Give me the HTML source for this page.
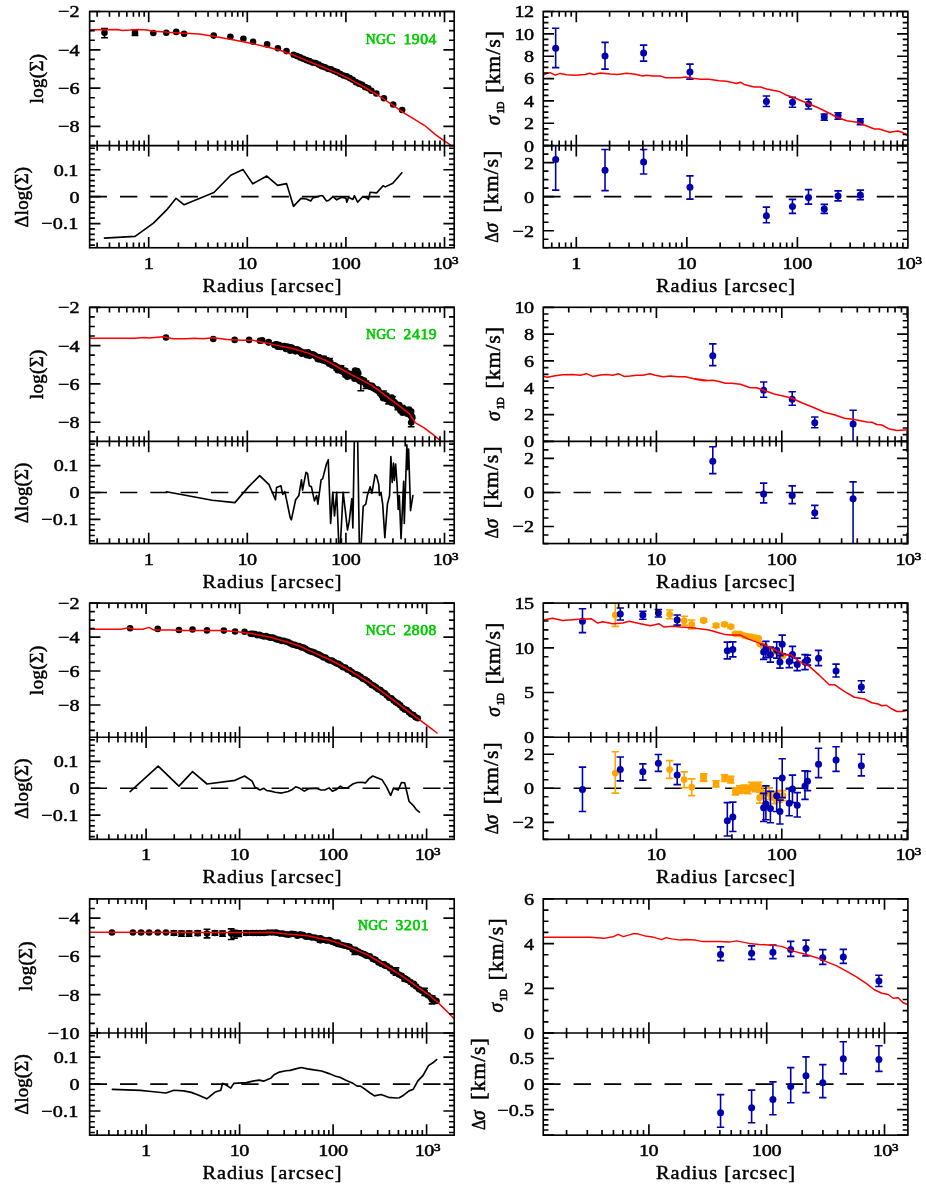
<!DOCTYPE html>
<html><head><meta charset="utf-8"><title>chart</title><style>html,body{margin:0;padding:0;background:#fff}svg{display:block;will-change:transform}text{font-family:"Liberation Serif",serif}</style></head>
<body>
<svg width="926" height="1201" viewBox="0 0 926 1201" font-family="Liberation Serif, serif">
<rect width="926" height="1201" fill="#fff"/>
<clipPath id="cLU0"><rect x="89.65" y="11.5" width="364.55" height="134.1"/></clipPath>
<clipPath id="cLL0"><rect x="89.65" y="145.6" width="364.55" height="102.15"/></clipPath>
<clipPath id="cRU0"><rect x="543.25" y="11.5" width="364.65" height="134.1"/></clipPath>
<clipPath id="cRL0"><rect x="543.25" y="145.6" width="364.65" height="102.15"/></clipPath>
<clipPath id="cLU1"><rect x="89.65" y="307.3" width="364.55" height="134.1"/></clipPath>
<clipPath id="cLL1"><rect x="89.65" y="441.4" width="364.55" height="102.15"/></clipPath>
<clipPath id="cRU1"><rect x="543.25" y="307.3" width="364.65" height="134.1"/></clipPath>
<clipPath id="cRL1"><rect x="543.25" y="441.4" width="364.65" height="102.15"/></clipPath>
<clipPath id="cLU2"><rect x="89.65" y="603.1" width="364.55" height="134.1"/></clipPath>
<clipPath id="cLL2"><rect x="89.65" y="737.2" width="364.55" height="102.15"/></clipPath>
<clipPath id="cRU2"><rect x="543.25" y="603.1" width="364.65" height="134.1"/></clipPath>
<clipPath id="cRL2"><rect x="543.25" y="737.2" width="364.65" height="102.15"/></clipPath>
<clipPath id="cLU3"><rect x="89.65" y="898.9" width="364.55" height="134.1"/></clipPath>
<clipPath id="cLL3"><rect x="89.65" y="1033" width="364.55" height="102.15"/></clipPath>
<clipPath id="cRU3"><rect x="543.25" y="898.9" width="364.65" height="134.1"/></clipPath>
<clipPath id="cRL3"><rect x="543.25" y="1033" width="364.65" height="102.15"/></clipPath>
<g clip-path="url(#cLU0)">
<path d="M104.5 28.6V37.8M101.1 28.6H107.9M101.1 37.8H107.9" stroke="#000" stroke-width="1.6" fill="none"/>
<circle cx="104.5" cy="32.7" r="3.3" fill="#000"/>
<path d="M135 30V35.4M131.6 30H138.4M131.6 35.4H138.4" stroke="#000" stroke-width="1.6" fill="none"/>
<circle cx="135" cy="32.7" r="3.3" fill="#000"/>
<circle cx="153.3" cy="33" r="3.3" fill="#000"/>
<circle cx="166.3" cy="32.7" r="3.3" fill="#000"/>
<circle cx="176.2" cy="31.9" r="3.3" fill="#000"/>
<circle cx="184.1" cy="33.8" r="3.3" fill="#000"/>
<circle cx="213.7" cy="35.6" r="3.3" fill="#000"/>
<circle cx="230.4" cy="36.8" r="3.3" fill="#000"/>
<circle cx="243.4" cy="38.8" r="3.3" fill="#000"/>
<circle cx="253.1" cy="41.8" r="3.3" fill="#000"/>
<circle cx="267.1" cy="44.4" r="3.3" fill="#000"/>
<circle cx="277.9" cy="48.2" r="3.3" fill="#000"/>
<circle cx="286.5" cy="51.1" r="3.3" fill="#000"/>
<circle cx="293.7" cy="54.7" r="3.3" fill="#000"/>
<circle cx="297" cy="56.04" r="3.3" fill="#000"/>
<circle cx="300.1" cy="57.41" r="3.3" fill="#000"/>
<circle cx="303.2" cy="58.71" r="3.3" fill="#000"/>
<circle cx="306.3" cy="60.11" r="3.3" fill="#000"/>
<circle cx="309.4" cy="61.16" r="3.3" fill="#000"/>
<circle cx="312.5" cy="62.58" r="3.3" fill="#000"/>
<circle cx="315.6" cy="62.93" r="3.3" fill="#000"/>
<circle cx="318.7" cy="64.61" r="3.3" fill="#000"/>
<circle cx="321.8" cy="66.32" r="3.3" fill="#000"/>
<circle cx="324.9" cy="67.32" r="3.3" fill="#000"/>
<circle cx="328" cy="68.87" r="3.3" fill="#000"/>
<circle cx="331.1" cy="69.38" r="3.3" fill="#000"/>
<circle cx="334.2" cy="71.03" r="3.3" fill="#000"/>
<circle cx="337.3" cy="72.17" r="3.3" fill="#000"/>
<circle cx="340.4" cy="73.95" r="3.3" fill="#000"/>
<circle cx="343.5" cy="75.47" r="3.3" fill="#000"/>
<circle cx="346.6" cy="76.39" r="3.3" fill="#000"/>
<circle cx="349.7" cy="78.08" r="3.3" fill="#000"/>
<circle cx="352.8" cy="79.8" r="3.3" fill="#000"/>
<circle cx="355.9" cy="82.13" r="3.3" fill="#000"/>
<circle cx="359" cy="83.67" r="3.3" fill="#000"/>
<circle cx="362.1" cy="84.76" r="3.3" fill="#000"/>
<circle cx="365.2" cy="87.14" r="3.3" fill="#000"/>
<circle cx="368.3" cy="88.37" r="3.3" fill="#000"/>
<circle cx="371.4" cy="90.73" r="3.3" fill="#000"/>
<circle cx="376.33" cy="93.5" r="3.3" fill="#000"/>
<circle cx="383.91" cy="98.27" r="3.3" fill="#000"/>
<circle cx="393.17" cy="104.45" r="3.3" fill="#000"/>
<circle cx="402.16" cy="110.06" r="3.3" fill="#000"/>
<path d="M89.6 29.7 L117.7 29.6 L122 30.4 L130 30.1 L138.2 29.5 L146.8 29.9 L153.3 31.2 L162 31.8 L170.6 32.4 L184.6 33.3 L190 33.6 L199.1 34.1 L213.3 36.2 L230.2 39.2 L243.1 41.8 L253.1 43.7 L267.1 47 L280 50.3 L294 55.4 L308.1 61.1 L322.1 66.7 L336.2 72.6 L350.2 79.3 L364.3 87 L378.3 95.5 L392.4 104.9 L405 113.6 L415.8 120.1 L424.4 125.3 L435.2 134.4 L440 137.8 L449.9 144.6 L454.1 147.8" fill="none" stroke="#ff0000" stroke-width="1.5" stroke-linejoin="round" stroke-linecap="round"/>
</g>
<g clip-path="url(#cLL0)">
<line x1="89.65" y1="196.68" x2="454.2" y2="196.68" stroke="#000" stroke-width="1.65" stroke-dasharray="17.35 12.97"/>
<path d="M104.41 238.06 L135.08 236.33 L153.43 223.15 L166.39 210.19 L176.11 198.32 L184.1 204.79 L213.91 192.48 L230.76 175.21 L243.07 169.59 L252.79 183.84 L266.83 176.07 L277.62 185.36 L286.57 183.63 L293.48 206.31 L301.04 198.32 L306.44 198.96 L310.76 200.91 L312.92 197.88 L320.48 195.72 L322.63 195.72 L326.52 200.91 L328.68 200.48 L333 196.59 L336.67 199.83 L341.64 197.24 L345.96 198.32 L346.83 202.2 L348.55 197.24 L352.87 199.4 L354.38 195.72 L357.62 202.2 L362.59 196.8 L366.91 197.88 L368.42 199.4 L370.15 192.27 L376.63 192.92 L383.11 185.79 L385.27 186.87 L392.83 183.2 L401.9 172.83" fill="none" stroke="#000" stroke-width="1.65" stroke-linejoin="round" stroke-linecap="round"/>
</g>
<g clip-path="url(#cRU0)">
<path d="M555.66 28.31V67.65M551.96 28.31H559.36M551.96 67.65H559.36" stroke="#0000b0" stroke-width="1.6" fill="none"/>
<circle cx="555.66" cy="48.35" r="3.5" fill="#0000b0"/>
<path d="M605.02 42.34V69.15M601.32 42.34H608.72M601.32 69.15H608.72" stroke="#0000b0" stroke-width="1.6" fill="none"/>
<circle cx="605.02" cy="56.12" r="3.5" fill="#0000b0"/>
<path d="M643.6 45.1V61.13M639.9 45.1H647.3M639.9 61.13H647.3" stroke="#0000b0" stroke-width="1.6" fill="none"/>
<circle cx="643.6" cy="53.11" r="3.5" fill="#0000b0"/>
<path d="M689.95 64.14V79.17M686.25 64.14H693.65M686.25 79.17H693.65" stroke="#0000b0" stroke-width="1.6" fill="none"/>
<circle cx="689.95" cy="71.9" r="3.5" fill="#0000b0"/>
<path d="M766.41 95.96V106.48M762.71 95.96H770.11M762.71 106.48H770.11" stroke="#0000b0" stroke-width="1.6" fill="none"/>
<circle cx="766.41" cy="101.47" r="3.5" fill="#0000b0"/>
<path d="M792.46 97.21V107.23M788.76 97.21H796.16M788.76 107.23H796.16" stroke="#0000b0" stroke-width="1.6" fill="none"/>
<circle cx="792.46" cy="102.22" r="3.5" fill="#0000b0"/>
<path d="M808.5 99.21V108.98M804.8 99.21H812.2M804.8 108.98H812.2" stroke="#0000b0" stroke-width="1.6" fill="none"/>
<circle cx="808.5" cy="103.97" r="3.5" fill="#0000b0"/>
<path d="M824.28 114V120.26M820.58 114H827.98M820.58 120.26H827.98" stroke="#0000b0" stroke-width="1.6" fill="none"/>
<circle cx="824.28" cy="117" r="3.5" fill="#0000b0"/>
<path d="M838.06 112.74V119.26M834.36 112.74H841.76M834.36 119.26H841.76" stroke="#0000b0" stroke-width="1.6" fill="none"/>
<circle cx="838.06" cy="115.75" r="3.5" fill="#0000b0"/>
<path d="M860.36 118.76V124.77M856.66 118.76H864.06M856.66 124.77H864.06" stroke="#0000b0" stroke-width="1.6" fill="none"/>
<circle cx="860.36" cy="121.76" r="3.5" fill="#0000b0"/>
<path d="M543.39 75.16 L547.65 73.16 L550.15 72.66 L555.16 75.16 L560.17 73.41 L566.44 74.66 L575.21 75.16 L585.23 74.41 L589.49 73.16 L594 74.41 L600.26 72.91 L610.28 73.91 L617.8 74.41 L626.57 73.16 L635.33 74.16 L642.85 75.91 L646.61 75.16 L652.87 75.91 L660.39 75.91 L665.4 77.67 L680.43 77.67 L685.44 76.92 L692.96 78.17 L700.48 79.17 L707.99 79.17 L709.03 79.17 L719.05 80.67 L726.57 81.17 L736.59 83.43 L740.35 82.18 L744.11 84.43 L754.13 86.94 L760.39 86.94 L766.66 88.94 L779.18 91.45 L785.45 94.7 L797.22 98.96 L809.25 103.97 L819.27 108.23 L829.29 113.24 L838.06 117.75 L846.83 120.76 L856.85 122.26 L866.87 126.02 L874.39 129.03 L879.4 129.03 L889.42 132.29 L898.19 131.03 L903.2 132.79 L908.21 136.04" fill="none" stroke="#ff0000" stroke-width="1.5" stroke-linejoin="round" stroke-linecap="round"/>
</g>
<g clip-path="url(#cRL0)">
<line x1="543.25" y1="196.68" x2="907.9" y2="196.68" stroke="#000" stroke-width="1.65" stroke-dasharray="17.35 12.97"/>
<path d="M555.66 129.98V190.11M551.96 129.98H559.36M551.96 190.11H559.36" stroke="#0000b0" stroke-width="1.6" fill="none"/>
<circle cx="555.66" cy="159.54" r="3.5" fill="#0000b0"/>
<path d="M605.02 149.52V190.61M601.32 149.52H608.72M601.32 190.61H608.72" stroke="#0000b0" stroke-width="1.6" fill="none"/>
<circle cx="605.02" cy="170.32" r="3.5" fill="#0000b0"/>
<path d="M643.6 149.52V174.07M639.9 149.52H647.3M639.9 174.07H647.3" stroke="#0000b0" stroke-width="1.6" fill="none"/>
<circle cx="643.6" cy="162.05" r="3.5" fill="#0000b0"/>
<path d="M689.95 175.83V199.13M686.25 175.83H693.65M686.25 199.13H693.65" stroke="#0000b0" stroke-width="1.6" fill="none"/>
<circle cx="689.95" cy="187.35" r="3.5" fill="#0000b0"/>
<path d="M766.41 207.14V222.68M762.71 207.14H770.11M762.71 222.68H770.11" stroke="#0000b0" stroke-width="1.6" fill="none"/>
<circle cx="766.41" cy="215.66" r="3.5" fill="#0000b0"/>
<path d="M792.46 199.38V213.41M788.76 199.38H796.16M788.76 213.41H796.16" stroke="#0000b0" stroke-width="1.6" fill="none"/>
<circle cx="792.46" cy="206.39" r="3.5" fill="#0000b0"/>
<path d="M808.5 189.61V204.14M804.8 189.61H812.2M804.8 204.14H812.2" stroke="#0000b0" stroke-width="1.6" fill="none"/>
<circle cx="808.5" cy="197.62" r="3.5" fill="#0000b0"/>
<path d="M824.28 204.39V213.41M820.58 204.39H827.98M820.58 213.41H827.98" stroke="#0000b0" stroke-width="1.6" fill="none"/>
<circle cx="824.28" cy="208.9" r="3.5" fill="#0000b0"/>
<path d="M838.06 190.86V200.88M834.36 190.86H841.76M834.36 200.88H841.76" stroke="#0000b0" stroke-width="1.6" fill="none"/>
<circle cx="838.06" cy="196.12" r="3.5" fill="#0000b0"/>
<path d="M860.36 190.11V199.63M856.66 190.11H864.06M856.66 199.63H864.06" stroke="#0000b0" stroke-width="1.6" fill="none"/>
<circle cx="860.36" cy="195.12" r="3.5" fill="#0000b0"/>
</g>
<rect x="89.65" y="11.5" width="364.55" height="236.25" fill="none" stroke="#000" stroke-width="1.65"/>
<line x1="89.65" y1="145.6" x2="454.2" y2="145.6" stroke="#000" stroke-width="1.65"/>
<path d="M97.14 11.5V16.7M109.46 11.5V16.7M119.02 11.5V16.7M126.83 11.5V16.7M133.43 11.5V16.7M139.14 11.5V16.7M144.19 11.5V16.7M148.7 11.5V22.3M178.38 11.5V16.7M195.74 11.5V16.7M208.06 11.5V16.7M217.62 11.5V16.7M225.43 11.5V16.7M232.03 11.5V16.7M237.74 11.5V16.7M242.79 11.5V16.7M247.3 11.5V22.3M276.98 11.5V16.7M294.34 11.5V16.7M306.66 11.5V16.7M316.22 11.5V16.7M324.03 11.5V16.7M330.63 11.5V16.7M336.34 11.5V16.7M341.39 11.5V16.7M345.9 11.5V22.3M375.58 11.5V16.7M392.94 11.5V16.7M405.26 11.5V16.7M414.82 11.5V16.7M422.63 11.5V16.7M429.23 11.5V16.7M434.94 11.5V16.7M439.99 11.5V16.7M444.5 11.5V22.3" stroke="#000" stroke-width="1.65" fill="none"/>
<path d="M97.14 140.4V150.8M109.46 140.4V150.8M119.02 140.4V150.8M126.83 140.4V150.8M133.43 140.4V150.8M139.14 140.4V150.8M144.19 140.4V150.8M148.7 134.8V156.4M178.38 140.4V150.8M195.74 140.4V150.8M208.06 140.4V150.8M217.62 140.4V150.8M225.43 140.4V150.8M232.03 140.4V150.8M237.74 140.4V150.8M242.79 140.4V150.8M247.3 134.8V156.4M276.98 140.4V150.8M294.34 140.4V150.8M306.66 140.4V150.8M316.22 140.4V150.8M324.03 140.4V150.8M330.63 140.4V150.8M336.34 140.4V150.8M341.39 140.4V150.8M345.9 134.8V156.4M375.58 140.4V150.8M392.94 140.4V150.8M405.26 140.4V150.8M414.82 140.4V150.8M422.63 140.4V150.8M429.23 140.4V150.8M434.94 140.4V150.8M439.99 140.4V150.8M444.5 134.8V156.4" stroke="#000" stroke-width="1.65" fill="none"/>
<path d="M97.14 242.55V247.75M109.46 242.55V247.75M119.02 242.55V247.75M126.83 242.55V247.75M133.43 242.55V247.75M139.14 242.55V247.75M144.19 242.55V247.75M148.7 236.95V247.75M178.38 242.55V247.75M195.74 242.55V247.75M208.06 242.55V247.75M217.62 242.55V247.75M225.43 242.55V247.75M232.03 242.55V247.75M237.74 242.55V247.75M242.79 242.55V247.75M247.3 236.95V247.75M276.98 242.55V247.75M294.34 242.55V247.75M306.66 242.55V247.75M316.22 242.55V247.75M324.03 242.55V247.75M330.63 242.55V247.75M336.34 242.55V247.75M341.39 242.55V247.75M345.9 236.95V247.75M375.58 242.55V247.75M392.94 242.55V247.75M405.26 242.55V247.75M414.82 242.55V247.75M422.63 242.55V247.75M429.23 242.55V247.75M434.94 242.55V247.75M439.99 242.55V247.75M444.5 236.95V247.75" stroke="#000" stroke-width="1.65" fill="none"/>
<path d="M89.65 145.6H94.85M454.2 145.6H449M89.65 136.02H94.85M454.2 136.02H449M89.65 126.44H100.45M454.2 126.44H443.4M89.65 116.86H94.85M454.2 116.86H449M89.65 107.29H94.85M454.2 107.29H449M89.65 97.71H94.85M454.2 97.71H449M89.65 88.13H100.45M454.2 88.13H443.4M89.65 78.55H94.85M454.2 78.55H449M89.65 68.97H94.85M454.2 68.97H449M89.65 59.39H94.85M454.2 59.39H449M89.65 49.81H100.45M454.2 49.81H443.4M89.65 40.24H94.85M454.2 40.24H449M89.65 30.66H94.85M454.2 30.66H449M89.65 21.08H94.85M454.2 21.08H449M89.65 11.5H100.45M454.2 11.5H443.4" stroke="#000" stroke-width="1.65" fill="none"/>
<path d="M89.65 245.06H94.85M454.2 245.06H449M89.65 239.69H94.85M454.2 239.69H449M89.65 234.31H94.85M454.2 234.31H449M89.65 228.93H94.85M454.2 228.93H449M89.65 223.56H100.45M454.2 223.56H443.4M89.65 218.18H94.85M454.2 218.18H449M89.65 212.8H94.85M454.2 212.8H449M89.65 207.43H94.85M454.2 207.43H449M89.65 202.05H94.85M454.2 202.05H449M89.65 196.68H100.45M454.2 196.68H443.4M89.65 191.3H94.85M454.2 191.3H449M89.65 185.92H94.85M454.2 185.92H449M89.65 180.55H94.85M454.2 180.55H449M89.65 175.17H94.85M454.2 175.17H449M89.65 169.79H100.45M454.2 169.79H443.4M89.65 164.42H94.85M454.2 164.42H449M89.65 159.04H94.85M454.2 159.04H449M89.65 153.66H94.85M454.2 153.66H449M89.65 148.29H94.85M454.2 148.29H449" stroke="#000" stroke-width="1.65" fill="none"/>
<text transform="translate(79.55 132.34) scale(1.14 1)" text-anchor="end" font-size="17.7" fill="#000" stroke="#000" stroke-width="0.5" textLength="18.95" lengthAdjust="spacing">−8</text>
<text transform="translate(79.55 94.03) scale(1.14 1)" text-anchor="end" font-size="17.7" fill="#000" stroke="#000" stroke-width="0.5" textLength="18.95" lengthAdjust="spacing">−6</text>
<text transform="translate(79.55 55.71) scale(1.14 1)" text-anchor="end" font-size="17.7" fill="#000" stroke="#000" stroke-width="0.5" textLength="18.95" lengthAdjust="spacing">−4</text>
<text transform="translate(79.55 17.4) scale(1.14 1)" text-anchor="end" font-size="17.7" fill="#000" stroke="#000" stroke-width="0.5" textLength="18.95" lengthAdjust="spacing">−2</text>
<text transform="translate(78.25 229.46) scale(1.14 1)" text-anchor="end" font-size="17.7" fill="#000" stroke="#000" stroke-width="0.5" textLength="32.37" lengthAdjust="spacing">−0.1</text>
<text transform="translate(79.55 202.58) scale(1.14 1)" text-anchor="end" font-size="17.7" fill="#000" stroke="#000" stroke-width="0.5">0</text>
<text transform="translate(78.25 175.69) scale(1.14 1)" text-anchor="end" font-size="17.7" fill="#000" stroke="#000" stroke-width="0.5" textLength="21.58" lengthAdjust="spacing">0.1</text>
<text transform="translate(148.7 268.75) scale(1.14 1)" text-anchor="middle" font-size="17.7" fill="#000" stroke="#000" stroke-width="0.5">1</text>
<text transform="translate(247.3 268.75) scale(1.14 1)" text-anchor="middle" font-size="17.7" fill="#000" stroke="#000" stroke-width="0.5" textLength="17.19" lengthAdjust="spacing">10</text>
<text transform="translate(345.9 268.75) scale(1.14 1)" text-anchor="middle" font-size="17.7" fill="#000" stroke="#000" stroke-width="0.5" textLength="26.23" lengthAdjust="spacing">100</text>
<text transform="translate(442.5 268.75) scale(1.14 1)" text-anchor="middle" font-size="17.7" fill="#000" stroke="#000" stroke-width="0.5" textLength="17.19" lengthAdjust="spacing">10</text>
<text transform="translate(455.2 263.75) scale(1.2 1)" text-anchor="middle" font-size="10.8" fill="#000" stroke="#000" stroke-width="0.6">3</text>
<text transform="translate(271.93 291.85) scale(1.14 1)" text-anchor="middle" font-size="17.8" fill="#000" stroke="#000" stroke-width="0.42" textLength="121.93" lengthAdjust="spacing">Radius [arcsec]</text>
<rect x="543.25" y="11.5" width="364.65" height="236.25" fill="none" stroke="#000" stroke-width="1.65"/>
<line x1="543.25" y1="145.6" x2="907.9" y2="145.6" stroke="#000" stroke-width="1.65"/>
<path d="M551.77 11.5V16.7M559.18 11.5V16.7M565.59 11.5V16.7M571.24 11.5V16.7M576.3 11.5V22.3M609.58 11.5V16.7M629.05 11.5V16.7M642.86 11.5V16.7M653.57 11.5V16.7M662.32 11.5V16.7M669.73 11.5V16.7M676.14 11.5V16.7M681.79 11.5V16.7M686.85 11.5V22.3M720.13 11.5V16.7M739.6 11.5V16.7M753.41 11.5V16.7M764.12 11.5V16.7M772.87 11.5V16.7M780.28 11.5V16.7M786.69 11.5V16.7M792.34 11.5V16.7M797.4 11.5V22.3M830.68 11.5V16.7M850.15 11.5V16.7M863.96 11.5V16.7M874.67 11.5V16.7M883.42 11.5V16.7M890.83 11.5V16.7M897.24 11.5V16.7M902.89 11.5V16.7" stroke="#000" stroke-width="1.65" fill="none"/>
<path d="M551.77 140.4V150.8M559.18 140.4V150.8M565.59 140.4V150.8M571.24 140.4V150.8M576.3 134.8V156.4M609.58 140.4V150.8M629.05 140.4V150.8M642.86 140.4V150.8M653.57 140.4V150.8M662.32 140.4V150.8M669.73 140.4V150.8M676.14 140.4V150.8M681.79 140.4V150.8M686.85 134.8V156.4M720.13 140.4V150.8M739.6 140.4V150.8M753.41 140.4V150.8M764.12 140.4V150.8M772.87 140.4V150.8M780.28 140.4V150.8M786.69 140.4V150.8M792.34 140.4V150.8M797.4 134.8V156.4M830.68 140.4V150.8M850.15 140.4V150.8M863.96 140.4V150.8M874.67 140.4V150.8M883.42 140.4V150.8M890.83 140.4V150.8M897.24 140.4V150.8M902.89 140.4V150.8" stroke="#000" stroke-width="1.65" fill="none"/>
<path d="M551.77 242.55V247.75M559.18 242.55V247.75M565.59 242.55V247.75M571.24 242.55V247.75M576.3 236.95V247.75M609.58 242.55V247.75M629.05 242.55V247.75M642.86 242.55V247.75M653.57 242.55V247.75M662.32 242.55V247.75M669.73 242.55V247.75M676.14 242.55V247.75M681.79 242.55V247.75M686.85 236.95V247.75M720.13 242.55V247.75M739.6 242.55V247.75M753.41 242.55V247.75M764.12 242.55V247.75M772.87 242.55V247.75M780.28 242.55V247.75M786.69 242.55V247.75M792.34 242.55V247.75M797.4 236.95V247.75M830.68 242.55V247.75M850.15 242.55V247.75M863.96 242.55V247.75M874.67 242.55V247.75M883.42 242.55V247.75M890.83 242.55V247.75M897.24 242.55V247.75M902.89 242.55V247.75" stroke="#000" stroke-width="1.65" fill="none"/>
<path d="M543.25 145.6H554.05M907.9 145.6H897.1M543.25 140.01H548.45M907.9 140.01H902.7M543.25 134.42H548.45M907.9 134.42H902.7M543.25 128.84H548.45M907.9 128.84H902.7M543.25 123.25H554.05M907.9 123.25H897.1M543.25 117.66H548.45M907.9 117.66H902.7M543.25 112.07H548.45M907.9 112.07H902.7M543.25 106.49H548.45M907.9 106.49H902.7M543.25 100.9H554.05M907.9 100.9H897.1M543.25 95.31H548.45M907.9 95.31H902.7M543.25 89.72H548.45M907.9 89.72H902.7M543.25 84.14H548.45M907.9 84.14H902.7M543.25 78.55H554.05M907.9 78.55H897.1M543.25 72.96H548.45M907.9 72.96H902.7M543.25 67.38H548.45M907.9 67.38H902.7M543.25 61.79H548.45M907.9 61.79H902.7M543.25 56.2H554.05M907.9 56.2H897.1M543.25 50.61H548.45M907.9 50.61H902.7M543.25 45.02H548.45M907.9 45.02H902.7M543.25 39.44H548.45M907.9 39.44H902.7M543.25 33.85H554.05M907.9 33.85H897.1M543.25 28.26H548.45M907.9 28.26H902.7M543.25 22.67H548.45M907.9 22.67H902.7M543.25 17.09H548.45M907.9 17.09H902.7M543.25 11.5H554.05M907.9 11.5H897.1" stroke="#000" stroke-width="1.65" fill="none"/>
<path d="M543.25 247.75H548.45M907.9 247.75H902.7M543.25 239.24H548.45M907.9 239.24H902.7M543.25 230.73H554.05M907.9 230.73H897.1M543.25 222.21H548.45M907.9 222.21H902.7M543.25 213.7H548.45M907.9 213.7H902.7M543.25 205.19H548.45M907.9 205.19H902.7M543.25 196.68H554.05M907.9 196.68H897.1M543.25 188.16H548.45M907.9 188.16H902.7M543.25 179.65H548.45M907.9 179.65H902.7M543.25 171.14H548.45M907.9 171.14H902.7M543.25 162.62H554.05M907.9 162.62H897.1M543.25 154.11H548.45M907.9 154.11H902.7M543.25 145.6H548.45M907.9 145.6H902.7" stroke="#000" stroke-width="1.65" fill="none"/>
<text transform="translate(534.15 151.5) scale(1.14 1)" text-anchor="end" font-size="17.7" fill="#000" stroke="#000" stroke-width="0.5">0</text>
<text transform="translate(534.15 129.15) scale(1.14 1)" text-anchor="end" font-size="17.7" fill="#000" stroke="#000" stroke-width="0.5">2</text>
<text transform="translate(534.15 106.8) scale(1.14 1)" text-anchor="end" font-size="17.7" fill="#000" stroke="#000" stroke-width="0.5">4</text>
<text transform="translate(534.15 84.45) scale(1.14 1)" text-anchor="end" font-size="17.7" fill="#000" stroke="#000" stroke-width="0.5">6</text>
<text transform="translate(534.15 62.1) scale(1.14 1)" text-anchor="end" font-size="17.7" fill="#000" stroke="#000" stroke-width="0.5">8</text>
<text transform="translate(534.15 39.75) scale(1.14 1)" text-anchor="end" font-size="17.7" fill="#000" stroke="#000" stroke-width="0.5" textLength="17.19" lengthAdjust="spacing">10</text>
<text transform="translate(534.15 17.4) scale(1.14 1)" text-anchor="end" font-size="17.7" fill="#000" stroke="#000" stroke-width="0.5" textLength="17.19" lengthAdjust="spacing">12</text>
<text transform="translate(534.15 236.63) scale(1.14 1)" text-anchor="end" font-size="17.7" fill="#000" stroke="#000" stroke-width="0.5" textLength="18.95" lengthAdjust="spacing">−2</text>
<text transform="translate(534.15 202.58) scale(1.14 1)" text-anchor="end" font-size="17.7" fill="#000" stroke="#000" stroke-width="0.5">0</text>
<text transform="translate(534.15 168.53) scale(1.14 1)" text-anchor="end" font-size="17.7" fill="#000" stroke="#000" stroke-width="0.5">2</text>
<text transform="translate(576.3 268.75) scale(1.14 1)" text-anchor="middle" font-size="17.7" fill="#000" stroke="#000" stroke-width="0.5">1</text>
<text transform="translate(686.85 268.75) scale(1.14 1)" text-anchor="middle" font-size="17.7" fill="#000" stroke="#000" stroke-width="0.5" textLength="17.19" lengthAdjust="spacing">10</text>
<text transform="translate(797.4 268.75) scale(1.14 1)" text-anchor="middle" font-size="17.7" fill="#000" stroke="#000" stroke-width="0.5" textLength="26.23" lengthAdjust="spacing">100</text>
<text transform="translate(905.95 268.75) scale(1.14 1)" text-anchor="middle" font-size="17.7" fill="#000" stroke="#000" stroke-width="0.5" textLength="17.19" lengthAdjust="spacing">10</text>
<text transform="translate(918.65 263.75) scale(1.2 1)" text-anchor="middle" font-size="10.8" fill="#000" stroke="#000" stroke-width="0.6">3</text>
<text transform="translate(725.58 291.85) scale(1.14 1)" text-anchor="middle" font-size="17.8" fill="#000" stroke="#000" stroke-width="0.42" textLength="121.93" lengthAdjust="spacing">Radius [arcsec]</text>
<text transform="rotate(-90 43.1 78.65) translate(43.1 78.65) scale(1 1)" text-anchor="middle" font-size="18.8" fill="#000" stroke="#000" stroke-width="0.5" textLength="49.3" lengthAdjust="spacing">log(Σ)</text>
<text transform="rotate(-90 28.3 197.18) translate(28.3 197.18) scale(1 1)" text-anchor="middle" font-size="18.8" fill="#000" stroke="#000" stroke-width="0.5" textLength="60.5" lengthAdjust="spacing">Δlog(Σ)</text>
<g transform="rotate(-90 500 78.55)">
<text transform="translate(453.4 78.55) scale(0.95 1)" text-anchor="start" font-size="20.5" fill="#000" stroke="#000" stroke-width="0.5" font-style="italic">σ</text>
<text transform="translate(464.8 82.15) scale(1 1)" text-anchor="start" font-size="10.3" fill="#000" stroke="#000" stroke-width="0.6" textLength="12.2" lengthAdjust="spacing">1D</text>
<text transform="translate(485.8 78.55) scale(1.04 1)" text-anchor="start" font-size="21" fill="#000" stroke="#000" stroke-width="0.5" textLength="59.23" lengthAdjust="spacing">[km/s]</text>
</g>
<g transform="rotate(-90 498 197.38)">
<text transform="translate(452.7 197.38) scale(0.85 1)" text-anchor="start" font-size="18.8" fill="#000" stroke="#000" stroke-width="0.5">Δ</text>
<text transform="translate(462.8 197.38) scale(0.95 1)" text-anchor="start" font-size="20.5" fill="#000" stroke="#000" stroke-width="0.5" font-style="italic">σ</text>
<text transform="translate(483 197.38) scale(1.04 1)" text-anchor="start" font-size="21" fill="#000" stroke="#000" stroke-width="0.5" textLength="59.23" lengthAdjust="spacing">[km/s]</text>
</g>
<text transform="translate(365.8 43.8) scale(0.88 1)" text-anchor="start" font-size="15.6" fill="#00cd00" stroke="#00cd00" stroke-width="0.75" textLength="33.52" lengthAdjust="spacing">NGC</text>
<text transform="translate(403.4 43.8) scale(1 1)" text-anchor="start" font-size="15.6" fill="#00cd00" stroke="#00cd00" stroke-width="0.75" textLength="33" lengthAdjust="spacing">1904</text>
<g clip-path="url(#cLU1)">
<circle cx="165.96" cy="337.55" r="3.3" fill="#000"/>
<circle cx="213.26" cy="339.06" r="3.3" fill="#000"/>
<circle cx="234.64" cy="339.92" r="3.3" fill="#000"/>
<circle cx="249.11" cy="339.92" r="3.3" fill="#000"/>
<circle cx="259.91" cy="340.79" r="3.3" fill="#000"/>
<circle cx="268.55" cy="342.52" r="3.3" fill="#000"/>
<circle cx="276.54" cy="344.24" r="3.3" fill="#000"/>
<circle cx="262.16" cy="340.36" r="3.3" fill="#000"/>
<circle cx="268.64" cy="342.08" r="3.3" fill="#000"/>
<circle cx="274.5" cy="344.92" r="3.3" fill="#000"/>
<circle cx="276.1" cy="344.63" r="3.3" fill="#000"/>
<circle cx="277.7" cy="346.77" r="3.3" fill="#000"/>
<circle cx="279.3" cy="345.03" r="3.3" fill="#000"/>
<circle cx="280.9" cy="347.04" r="3.3" fill="#000"/>
<circle cx="282.5" cy="346.77" r="3.3" fill="#000"/>
<circle cx="284.1" cy="346" r="3.3" fill="#000"/>
<circle cx="285.7" cy="347.96" r="3.3" fill="#000"/>
<circle cx="287.3" cy="346.61" r="3.3" fill="#000"/>
<circle cx="288.9" cy="348.38" r="3.3" fill="#000"/>
<circle cx="290.5" cy="347.41" r="3.3" fill="#000"/>
<circle cx="292.1" cy="347.83" r="3.3" fill="#000"/>
<circle cx="293.7" cy="349.46" r="3.3" fill="#000"/>
<circle cx="295.3" cy="351.37" r="3.3" fill="#000"/>
<circle cx="296.9" cy="349.3" r="3.3" fill="#000"/>
<circle cx="298.5" cy="350.11" r="3.3" fill="#000"/>
<circle cx="300.1" cy="352.02" r="3.3" fill="#000"/>
<circle cx="301.7" cy="353.63" r="3.3" fill="#000"/>
<circle cx="303.3" cy="352.76" r="3.3" fill="#000"/>
<circle cx="304.9" cy="352.56" r="3.3" fill="#000"/>
<circle cx="306.5" cy="355.11" r="3.3" fill="#000"/>
<circle cx="308.1" cy="352.29" r="3.3" fill="#000"/>
<circle cx="309.7" cy="355.87" r="3.3" fill="#000"/>
<circle cx="311.3" cy="354.48" r="3.3" fill="#000"/>
<circle cx="312.9" cy="354.62" r="3.3" fill="#000"/>
<circle cx="314.5" cy="355.18" r="3.3" fill="#000"/>
<circle cx="316.1" cy="356.52" r="3.3" fill="#000"/>
<circle cx="317.7" cy="359.01" r="3.3" fill="#000"/>
<circle cx="319.3" cy="357.38" r="3.3" fill="#000"/>
<circle cx="320.9" cy="359.48" r="3.3" fill="#000"/>
<circle cx="322.5" cy="360.34" r="3.3" fill="#000"/>
<circle cx="324.1" cy="360.04" r="3.3" fill="#000"/>
<circle cx="325.7" cy="361.33" r="3.3" fill="#000"/>
<circle cx="327.3" cy="360.3" r="3.3" fill="#000"/>
<circle cx="328.9" cy="361.2" r="3.3" fill="#000"/>
<circle cx="330.5" cy="362.64" r="3.3" fill="#000"/>
<circle cx="332.1" cy="365.26" r="3.3" fill="#000"/>
<circle cx="333.7" cy="365.27" r="3.3" fill="#000"/>
<circle cx="335.3" cy="365.77" r="3.3" fill="#000"/>
<circle cx="336.9" cy="367.67" r="3.3" fill="#000"/>
<circle cx="338.5" cy="368.1" r="3.3" fill="#000"/>
<circle cx="340.1" cy="368.47" r="3.3" fill="#000"/>
<circle cx="341.7" cy="371.16" r="3.3" fill="#000"/>
<circle cx="343.3" cy="371.69" r="3.3" fill="#000"/>
<circle cx="344.9" cy="370.91" r="3.3" fill="#000"/>
<circle cx="346.5" cy="372.97" r="3.3" fill="#000"/>
<circle cx="348.1" cy="373.65" r="3.3" fill="#000"/>
<circle cx="349.7" cy="375.77" r="3.3" fill="#000"/>
<circle cx="351.3" cy="376.11" r="3.3" fill="#000"/>
<circle cx="352.9" cy="375.38" r="3.3" fill="#000"/>
<circle cx="354.5" cy="378.73" r="3.3" fill="#000"/>
<circle cx="356.1" cy="376.49" r="3.3" fill="#000"/>
<circle cx="357.7" cy="378.43" r="3.3" fill="#000"/>
<circle cx="359.3" cy="380.5" r="3.3" fill="#000"/>
<circle cx="360.9" cy="379.17" r="3.3" fill="#000"/>
<circle cx="362.5" cy="381.24" r="3.3" fill="#000"/>
<circle cx="364.1" cy="380.47" r="3.3" fill="#000"/>
<circle cx="365.7" cy="383.59" r="3.3" fill="#000"/>
<circle cx="367.3" cy="384.79" r="3.3" fill="#000"/>
<circle cx="368.9" cy="384.96" r="3.3" fill="#000"/>
<circle cx="370.5" cy="386.9" r="3.3" fill="#000"/>
<circle cx="372.1" cy="385.73" r="3.3" fill="#000"/>
<circle cx="373.7" cy="388.26" r="3.3" fill="#000"/>
<circle cx="375.3" cy="389.09" r="3.3" fill="#000"/>
<circle cx="376.9" cy="390.24" r="3.3" fill="#000"/>
<circle cx="378.5" cy="391" r="3.3" fill="#000"/>
<circle cx="380.1" cy="393.58" r="3.3" fill="#000"/>
<circle cx="381.7" cy="395.16" r="3.3" fill="#000"/>
<circle cx="383.3" cy="394.66" r="3.3" fill="#000"/>
<circle cx="384.9" cy="396.55" r="3.3" fill="#000"/>
<circle cx="386.5" cy="395.57" r="3.3" fill="#000"/>
<circle cx="388.1" cy="399.08" r="3.3" fill="#000"/>
<circle cx="389.7" cy="400.08" r="3.3" fill="#000"/>
<circle cx="391.3" cy="402.53" r="3.3" fill="#000"/>
<circle cx="392.9" cy="403.11" r="3.3" fill="#000"/>
<circle cx="394.5" cy="402.38" r="3.3" fill="#000"/>
<circle cx="396.1" cy="403.94" r="3.3" fill="#000"/>
<circle cx="397.7" cy="406.16" r="3.3" fill="#000"/>
<circle cx="399.3" cy="405.05" r="3.3" fill="#000"/>
<circle cx="400.9" cy="407.84" r="3.3" fill="#000"/>
<circle cx="402.5" cy="408" r="3.3" fill="#000"/>
<circle cx="404.1" cy="409.03" r="3.3" fill="#000"/>
<circle cx="405.7" cy="410.04" r="3.3" fill="#000"/>
<circle cx="407.3" cy="413.81" r="3.3" fill="#000"/>
<circle cx="408.9" cy="412.73" r="3.3" fill="#000"/>
<circle cx="410.5" cy="415.41" r="3.3" fill="#000"/>
<circle cx="412.1" cy="418.27" r="3.3" fill="#000"/>
<path d="M300 349.48V353.16M296.6 349.48H303.4M296.6 353.16H303.4" stroke="#000" stroke-width="1.6" fill="none"/>
<circle cx="300" cy="351.32" r="3.3" fill="#000"/>
<path d="M306.9 351.51V355.16M303.5 351.51H310.3M303.5 355.16H310.3" stroke="#000" stroke-width="1.6" fill="none"/>
<circle cx="306.9" cy="353.34" r="3.3" fill="#000"/>
<path d="M312.69 352.77V356.54M309.29 352.77H316.09M309.29 356.54H316.09" stroke="#000" stroke-width="1.6" fill="none"/>
<circle cx="312.69" cy="354.66" r="3.3" fill="#000"/>
<path d="M318.62 358.05V360.39M315.22 358.05H322.02M315.22 360.39H322.02" stroke="#000" stroke-width="1.6" fill="none"/>
<circle cx="318.62" cy="359.22" r="3.3" fill="#000"/>
<path d="M323.47 356.2V361.31M320.07 356.2H326.87M320.07 361.31H326.87" stroke="#000" stroke-width="1.6" fill="none"/>
<circle cx="323.47" cy="358.76" r="3.3" fill="#000"/>
<path d="M329.61 358.54V364.53M326.21 358.54H333.01M326.21 364.53H333.01" stroke="#000" stroke-width="1.6" fill="none"/>
<circle cx="329.61" cy="361.54" r="3.3" fill="#000"/>
<path d="M336.64 365.37V370.02M333.24 365.37H340.04M333.24 370.02H340.04" stroke="#000" stroke-width="1.6" fill="none"/>
<circle cx="336.64" cy="367.7" r="3.3" fill="#000"/>
<path d="M341.01 365.78V370.14M337.61 365.78H344.41M337.61 370.14H344.41" stroke="#000" stroke-width="1.6" fill="none"/>
<circle cx="341.01" cy="367.96" r="3.3" fill="#000"/>
<path d="M345.06 369.23V372.34M341.66 369.23H348.46M341.66 372.34H348.46" stroke="#000" stroke-width="1.6" fill="none"/>
<circle cx="345.06" cy="370.79" r="3.3" fill="#000"/>
<path d="M349.01 371.82V375.92M345.61 371.82H352.41M345.61 375.92H352.41" stroke="#000" stroke-width="1.6" fill="none"/>
<circle cx="349.01" cy="373.87" r="3.3" fill="#000"/>
<path d="M355.64 375.04V380.23M352.24 375.04H359.04M352.24 380.23H359.04" stroke="#000" stroke-width="1.6" fill="none"/>
<circle cx="355.64" cy="377.63" r="3.3" fill="#000"/>
<path d="M361.13 378.89V383.26M357.73 378.89H364.53M357.73 383.26H364.53" stroke="#000" stroke-width="1.6" fill="none"/>
<circle cx="361.13" cy="381.07" r="3.3" fill="#000"/>
<path d="M365.9 381.12V388.45M362.5 381.12H369.3M362.5 388.45H369.3" stroke="#000" stroke-width="1.6" fill="none"/>
<circle cx="365.9" cy="384.79" r="3.3" fill="#000"/>
<path d="M372.53 385.47V389.23M369.13 385.47H375.93M369.13 389.23H375.93" stroke="#000" stroke-width="1.6" fill="none"/>
<circle cx="372.53" cy="387.35" r="3.3" fill="#000"/>
<path d="M377.13 388.14V390.54M373.73 388.14H380.53M373.73 390.54H380.53" stroke="#000" stroke-width="1.6" fill="none"/>
<circle cx="377.13" cy="389.34" r="3.3" fill="#000"/>
<path d="M383.51 390.98V398.05M380.11 390.98H386.91M380.11 398.05H386.91" stroke="#000" stroke-width="1.6" fill="none"/>
<circle cx="383.51" cy="394.52" r="3.3" fill="#000"/>
<path d="M388.64 396.7V403.92M385.24 396.7H392.04M385.24 403.92H392.04" stroke="#000" stroke-width="1.6" fill="none"/>
<circle cx="388.64" cy="400.31" r="3.3" fill="#000"/>
<path d="M392.49 396.71V404.45M389.09 396.71H395.89M389.09 404.45H395.89" stroke="#000" stroke-width="1.6" fill="none"/>
<circle cx="392.49" cy="400.58" r="3.3" fill="#000"/>
<path d="M397.89 405.04V409.62M394.49 405.04H401.29M394.49 409.62H401.29" stroke="#000" stroke-width="1.6" fill="none"/>
<circle cx="397.89" cy="407.33" r="3.3" fill="#000"/>
<path d="M401.98 405.62V412.79M398.58 405.62H405.38M398.58 412.79H405.38" stroke="#000" stroke-width="1.6" fill="none"/>
<circle cx="401.98" cy="409.21" r="3.3" fill="#000"/>
<path d="M406.72 408.78V413.04M403.32 408.78H410.12M403.32 413.04H410.12" stroke="#000" stroke-width="1.6" fill="none"/>
<circle cx="406.72" cy="410.91" r="3.3" fill="#000"/>
<circle cx="355.03" cy="370.59" r="3.3" fill="#000"/>
<circle cx="357.19" cy="371.03" r="3.3" fill="#000"/>
<circle cx="356.11" cy="372.11" r="3.3" fill="#000"/>
<circle cx="358.27" cy="373.19" r="3.3" fill="#000"/>
<path d="M360.86 378.15V390.68M357.46 378.15H364.26M357.46 390.68H364.26" stroke="#000" stroke-width="1.6" fill="none"/>
<circle cx="360.86" cy="381.39" r="3.3" fill="#000"/>
<circle cx="337.75" cy="370.16" r="3.3" fill="#000"/>
<circle cx="345.31" cy="374.91" r="3.3" fill="#000"/>
<circle cx="347.47" cy="376.64" r="3.3" fill="#000"/>
<circle cx="400.39" cy="410.55" r="3.3" fill="#000"/>
<circle cx="402.55" cy="412.71" r="3.3" fill="#000"/>
<circle cx="409.03" cy="409.47" r="3.3" fill="#000"/>
<circle cx="411.19" cy="411.63" r="3.3" fill="#000"/>
<circle cx="412.27" cy="417.03" r="3.3" fill="#000"/>
<path d="M411.19 415.95V426.75M407.79 415.95H414.59M407.79 426.75H414.59" stroke="#000" stroke-width="1.6" fill="none"/>
<circle cx="411.19" cy="422.43" r="3.3" fill="#000"/>
<circle cx="383.11" cy="398.24" r="3.3" fill="#000"/>
<circle cx="386.35" cy="399.1" r="3.3" fill="#000"/>
<circle cx="391.75" cy="397.59" r="3.3" fill="#000"/>
<circle cx="329.11" cy="363.68" r="3.3" fill="#000"/>
<circle cx="332.35" cy="365.19" r="3.3" fill="#000"/>
<circle cx="285.92" cy="349" r="3.3" fill="#000"/>
<circle cx="290.24" cy="350.72" r="3.3" fill="#000"/>
<path d="M89.72 338.2 L134 338.2 L144.79 337.55 L149.11 337.98 L163.15 336.68 L172.87 338.84 L185.83 338.84 L194.47 338.2 L203.11 338.84 L213.26 337.76 L226.87 339.49 L241.99 340.36 L252.79 340.36 L263.59 342.52 L276.2 345.11 L292.4 348.56 L307.52 352.88 L326.95 360.87 L342.07 369.51 L356.11 377.07 L372.31 385.71 L385.27 395.43 L398.23 405.15 L409.03 413.36 L415.51 422.86 L424.15 427.83 L432.79 434.31 L440.35 440.79 L445.75 446.19" fill="none" stroke="#ff0000" stroke-width="1.5" stroke-linejoin="round" stroke-linecap="round"/>
</g>
<g clip-path="url(#cLL1)">
<line x1="89.65" y1="492.47" x2="454.2" y2="492.47" stroke="#000" stroke-width="1.65" stroke-dasharray="17.35 12.97"/>
<path d="M166.39 491.8 L212.18 500.23 L234.86 502.6 L248.47 486.84 L259.7 475.6 L268.98 484.68 L275.46 499.79 L276.54 487.48 L280.95 485.76 L282.68 494.4 L284.84 491.59 L290.24 517.72 L291.32 519.88 L295.64 499.79 L298.88 495.48 L301.47 479.71 L302.55 490.08 L306 472.37 L307.52 473.44 L309.24 485.76 L311.4 486.84 L314.43 500.87 L316.59 495.48 L317.88 504.11 L321.12 479.71 L322.63 478.84 L326.52 463.73 L328.25 459.84 L330.63 523.55 L332.79 492.24 L334.51 515.99 L336.67 492.24 L338.83 545.15 L340.35 545.15 L343.15 492.24 L345.31 510.59 L347.47 530.03 L349.2 521.39 L351.79 498.71 L352.87 527.87 L354.38 437.16 L357.62 437.16 L359.35 545.15 L361.08 545.15 L363.24 506.27 L365.83 504.11 L367.34 495.48 L370.15 486.84 L371.88 493.32 L375.12 474.52 L376.63 476.04 L378.79 484.68 L379.44 495.48 L380.95 492.24 L382.68 504.11 L384.84 537.59 L387.43 504.11 L389.59 495.48 L390.89 456.6 L392.18 482.52 L393.48 463.08 L394.34 480.36 L395.64 464.16 L397.15 485.76 L398.23 509.51 L399.31 495.48 L401.04 538.67 L403.63 481.44 L404.28 523.55 L406.87 444.72 L407.52 469.56 L408.6 449.04 L410.54 510.59 L412.92 495.48" fill="none" stroke="#000" stroke-width="1.65" stroke-linejoin="round" stroke-linecap="round"/>
</g>
<g clip-path="url(#cRU1)">
<path d="M712.79 343.86V365.65M709.09 343.86H716.49M709.09 365.65H716.49" stroke="#0000b0" stroke-width="1.6" fill="none"/>
<circle cx="712.79" cy="355.63" r="3.5" fill="#0000b0"/>
<path d="M763.65 381.94V397.22M759.95 381.94H767.35M759.95 397.22H767.35" stroke="#0000b0" stroke-width="1.6" fill="none"/>
<circle cx="763.65" cy="390.21" r="3.5" fill="#0000b0"/>
<path d="M792.21 391.71V405.24M788.51 391.71H795.91M788.51 405.24H795.91" stroke="#0000b0" stroke-width="1.6" fill="none"/>
<circle cx="792.21" cy="399.22" r="3.5" fill="#0000b0"/>
<path d="M814.76 417.01V427.79M811.06 417.01H818.46M811.06 427.79H818.46" stroke="#0000b0" stroke-width="1.6" fill="none"/>
<circle cx="814.76" cy="422.78" r="3.5" fill="#0000b0"/>
<path d="M853.09 410.25V455.35M849.39 410.25H856.79M849.39 455.35H856.79" stroke="#0000b0" stroke-width="1.6" fill="none"/>
<circle cx="853.09" cy="424.03" r="3.5" fill="#0000b0"/>
<path d="M543.39 376.43 L547.65 377.18 L555.16 375.67 L562.68 374.67 L572.7 374.42 L580.22 375.17 L586.48 373.67 L592.74 376.43 L600.26 374.92 L606.52 374.42 L612.79 375.17 L618.3 373.67 L624.06 376.43 L630.32 375.92 L636.59 375.17 L642.85 375.17 L649.87 373.67 L655.38 375.17 L662.89 376.68 L670.41 375.92 L677.93 376.68 L685.44 376.68 L692.96 378.43 L700.48 379.43 L706.74 380.43 L694 378.93 L704.02 380.68 L712.79 380.18 L719.05 381.44 L725.32 383.19 L731.58 383.19 L740.35 384.19 L750.37 387.7 L756.63 387.7 L763.65 390.21 L774.17 393.96 L784.19 396.22 L792.21 398.22 L801.73 402.73 L814.26 407.74 L824.28 412.25 L834.3 414.76 L844.32 418.27 L854.35 419.52 L866.87 422.02 L871.88 422.27 L876.89 424.53 L881.9 425.03 L889.42 429.04 L896.94 430.54 L908.21 429.79" fill="none" stroke="#ff0000" stroke-width="1.5" stroke-linejoin="round" stroke-linecap="round"/>
</g>
<g clip-path="url(#cRL1)">
<line x1="543.25" y1="492.47" x2="907.9" y2="492.47" stroke="#000" stroke-width="1.65" stroke-dasharray="17.35 12.97"/>
<path d="M712.79 446.79V473.59M709.09 446.79H716.49M709.09 473.59H716.49" stroke="#0000b0" stroke-width="1.6" fill="none"/>
<circle cx="712.79" cy="461.32" r="3.5" fill="#0000b0"/>
<path d="M763.65 483.11V502.91M759.95 483.11H767.35M759.95 502.91H767.35" stroke="#0000b0" stroke-width="1.6" fill="none"/>
<circle cx="763.65" cy="493.89" r="3.5" fill="#0000b0"/>
<path d="M792.21 485.87V503.66M788.51 485.87H795.91M788.51 503.66H795.91" stroke="#0000b0" stroke-width="1.6" fill="none"/>
<circle cx="792.21" cy="495.39" r="3.5" fill="#0000b0"/>
<path d="M814.76 505.41V518.19M811.06 505.41H818.46M811.06 518.19H818.46" stroke="#0000b0" stroke-width="1.6" fill="none"/>
<circle cx="814.76" cy="512.68" r="3.5" fill="#0000b0"/>
<path d="M853.09 481.86V560.28M849.39 481.86H856.79M849.39 560.28H856.79" stroke="#0000b0" stroke-width="1.6" fill="none"/>
<circle cx="853.09" cy="498.65" r="3.5" fill="#0000b0"/>
</g>
<rect x="89.65" y="307.3" width="364.55" height="236.25" fill="none" stroke="#000" stroke-width="1.65"/>
<line x1="89.65" y1="441.4" x2="454.2" y2="441.4" stroke="#000" stroke-width="1.65"/>
<path d="M97.14 307.3V312.5M109.46 307.3V312.5M119.02 307.3V312.5M126.83 307.3V312.5M133.43 307.3V312.5M139.14 307.3V312.5M144.19 307.3V312.5M148.7 307.3V318.1M178.38 307.3V312.5M195.74 307.3V312.5M208.06 307.3V312.5M217.62 307.3V312.5M225.43 307.3V312.5M232.03 307.3V312.5M237.74 307.3V312.5M242.79 307.3V312.5M247.3 307.3V318.1M276.98 307.3V312.5M294.34 307.3V312.5M306.66 307.3V312.5M316.22 307.3V312.5M324.03 307.3V312.5M330.63 307.3V312.5M336.34 307.3V312.5M341.39 307.3V312.5M345.9 307.3V318.1M375.58 307.3V312.5M392.94 307.3V312.5M405.26 307.3V312.5M414.82 307.3V312.5M422.63 307.3V312.5M429.23 307.3V312.5M434.94 307.3V312.5M439.99 307.3V312.5M444.5 307.3V318.1" stroke="#000" stroke-width="1.65" fill="none"/>
<path d="M97.14 436.2V446.6M109.46 436.2V446.6M119.02 436.2V446.6M126.83 436.2V446.6M133.43 436.2V446.6M139.14 436.2V446.6M144.19 436.2V446.6M148.7 430.6V452.2M178.38 436.2V446.6M195.74 436.2V446.6M208.06 436.2V446.6M217.62 436.2V446.6M225.43 436.2V446.6M232.03 436.2V446.6M237.74 436.2V446.6M242.79 436.2V446.6M247.3 430.6V452.2M276.98 436.2V446.6M294.34 436.2V446.6M306.66 436.2V446.6M316.22 436.2V446.6M324.03 436.2V446.6M330.63 436.2V446.6M336.34 436.2V446.6M341.39 436.2V446.6M345.9 430.6V452.2M375.58 436.2V446.6M392.94 436.2V446.6M405.26 436.2V446.6M414.82 436.2V446.6M422.63 436.2V446.6M429.23 436.2V446.6M434.94 436.2V446.6M439.99 436.2V446.6M444.5 430.6V452.2" stroke="#000" stroke-width="1.65" fill="none"/>
<path d="M97.14 538.35V543.55M109.46 538.35V543.55M119.02 538.35V543.55M126.83 538.35V543.55M133.43 538.35V543.55M139.14 538.35V543.55M144.19 538.35V543.55M148.7 532.75V543.55M178.38 538.35V543.55M195.74 538.35V543.55M208.06 538.35V543.55M217.62 538.35V543.55M225.43 538.35V543.55M232.03 538.35V543.55M237.74 538.35V543.55M242.79 538.35V543.55M247.3 532.75V543.55M276.98 538.35V543.55M294.34 538.35V543.55M306.66 538.35V543.55M316.22 538.35V543.55M324.03 538.35V543.55M330.63 538.35V543.55M336.34 538.35V543.55M341.39 538.35V543.55M345.9 532.75V543.55M375.58 538.35V543.55M392.94 538.35V543.55M405.26 538.35V543.55M414.82 538.35V543.55M422.63 538.35V543.55M429.23 538.35V543.55M434.94 538.35V543.55M439.99 538.35V543.55M444.5 532.75V543.55" stroke="#000" stroke-width="1.65" fill="none"/>
<path d="M89.65 441.4H94.85M454.2 441.4H449M89.65 431.82H94.85M454.2 431.82H449M89.65 422.24H100.45M454.2 422.24H443.4M89.65 412.66H94.85M454.2 412.66H449M89.65 403.09H94.85M454.2 403.09H449M89.65 393.51H94.85M454.2 393.51H449M89.65 383.93H100.45M454.2 383.93H443.4M89.65 374.35H94.85M454.2 374.35H449M89.65 364.77H94.85M454.2 364.77H449M89.65 355.19H94.85M454.2 355.19H449M89.65 345.61H100.45M454.2 345.61H443.4M89.65 336.04H94.85M454.2 336.04H449M89.65 326.46H94.85M454.2 326.46H449M89.65 316.88H94.85M454.2 316.88H449M89.65 307.3H100.45M454.2 307.3H443.4" stroke="#000" stroke-width="1.65" fill="none"/>
<path d="M89.65 540.86H94.85M454.2 540.86H449M89.65 535.49H94.85M454.2 535.49H449M89.65 530.11H94.85M454.2 530.11H449M89.65 524.73H94.85M454.2 524.73H449M89.65 519.36H100.45M454.2 519.36H443.4M89.65 513.98H94.85M454.2 513.98H449M89.65 508.6H94.85M454.2 508.6H449M89.65 503.23H94.85M454.2 503.23H449M89.65 497.85H94.85M454.2 497.85H449M89.65 492.47H100.45M454.2 492.47H443.4M89.65 487.1H94.85M454.2 487.1H449M89.65 481.72H94.85M454.2 481.72H449M89.65 476.35H94.85M454.2 476.35H449M89.65 470.97H94.85M454.2 470.97H449M89.65 465.59H100.45M454.2 465.59H443.4M89.65 460.22H94.85M454.2 460.22H449M89.65 454.84H94.85M454.2 454.84H449M89.65 449.46H94.85M454.2 449.46H449M89.65 444.09H94.85M454.2 444.09H449" stroke="#000" stroke-width="1.65" fill="none"/>
<text transform="translate(79.55 428.14) scale(1.14 1)" text-anchor="end" font-size="17.7" fill="#000" stroke="#000" stroke-width="0.5" textLength="18.95" lengthAdjust="spacing">−8</text>
<text transform="translate(79.55 389.83) scale(1.14 1)" text-anchor="end" font-size="17.7" fill="#000" stroke="#000" stroke-width="0.5" textLength="18.95" lengthAdjust="spacing">−6</text>
<text transform="translate(79.55 351.51) scale(1.14 1)" text-anchor="end" font-size="17.7" fill="#000" stroke="#000" stroke-width="0.5" textLength="18.95" lengthAdjust="spacing">−4</text>
<text transform="translate(79.55 313.2) scale(1.14 1)" text-anchor="end" font-size="17.7" fill="#000" stroke="#000" stroke-width="0.5" textLength="18.95" lengthAdjust="spacing">−2</text>
<text transform="translate(78.25 525.26) scale(1.14 1)" text-anchor="end" font-size="17.7" fill="#000" stroke="#000" stroke-width="0.5" textLength="32.37" lengthAdjust="spacing">−0.1</text>
<text transform="translate(79.55 498.37) scale(1.14 1)" text-anchor="end" font-size="17.7" fill="#000" stroke="#000" stroke-width="0.5">0</text>
<text transform="translate(78.25 471.49) scale(1.14 1)" text-anchor="end" font-size="17.7" fill="#000" stroke="#000" stroke-width="0.5" textLength="21.58" lengthAdjust="spacing">0.1</text>
<text transform="translate(148.7 564.55) scale(1.14 1)" text-anchor="middle" font-size="17.7" fill="#000" stroke="#000" stroke-width="0.5">1</text>
<text transform="translate(247.3 564.55) scale(1.14 1)" text-anchor="middle" font-size="17.7" fill="#000" stroke="#000" stroke-width="0.5" textLength="17.19" lengthAdjust="spacing">10</text>
<text transform="translate(345.9 564.55) scale(1.14 1)" text-anchor="middle" font-size="17.7" fill="#000" stroke="#000" stroke-width="0.5" textLength="26.23" lengthAdjust="spacing">100</text>
<text transform="translate(442.5 564.55) scale(1.14 1)" text-anchor="middle" font-size="17.7" fill="#000" stroke="#000" stroke-width="0.5" textLength="17.19" lengthAdjust="spacing">10</text>
<text transform="translate(455.2 559.55) scale(1.2 1)" text-anchor="middle" font-size="10.8" fill="#000" stroke="#000" stroke-width="0.6">3</text>
<text transform="translate(271.93 587.65) scale(1.14 1)" text-anchor="middle" font-size="17.8" fill="#000" stroke="#000" stroke-width="0.42" textLength="121.93" lengthAdjust="spacing">Radius [arcsec]</text>
<rect x="543.25" y="307.3" width="364.65" height="236.25" fill="none" stroke="#000" stroke-width="1.65"/>
<line x1="543.25" y1="441.4" x2="907.9" y2="441.4" stroke="#000" stroke-width="1.65"/>
<path d="M568.75 307.3V312.5M590.83 307.3V312.5M606.5 307.3V312.5M618.65 307.3V312.5M628.58 307.3V312.5M636.98 307.3V312.5M644.25 307.3V312.5M650.66 307.3V312.5M656.4 307.3V318.1M694.15 307.3V312.5M716.23 307.3V312.5M731.9 307.3V312.5M744.05 307.3V312.5M753.98 307.3V312.5M762.38 307.3V312.5M769.65 307.3V312.5M776.06 307.3V312.5M781.8 307.3V318.1M819.55 307.3V312.5M841.63 307.3V312.5M857.3 307.3V312.5M869.45 307.3V312.5M879.38 307.3V312.5M887.78 307.3V312.5M895.05 307.3V312.5M901.46 307.3V312.5M907.2 307.3V318.1" stroke="#000" stroke-width="1.65" fill="none"/>
<path d="M568.75 436.2V446.6M590.83 436.2V446.6M606.5 436.2V446.6M618.65 436.2V446.6M628.58 436.2V446.6M636.98 436.2V446.6M644.25 436.2V446.6M650.66 436.2V446.6M656.4 430.6V452.2M694.15 436.2V446.6M716.23 436.2V446.6M731.9 436.2V446.6M744.05 436.2V446.6M753.98 436.2V446.6M762.38 436.2V446.6M769.65 436.2V446.6M776.06 436.2V446.6M781.8 430.6V452.2M819.55 436.2V446.6M841.63 436.2V446.6M857.3 436.2V446.6M869.45 436.2V446.6M879.38 436.2V446.6M887.78 436.2V446.6M895.05 436.2V446.6M901.46 436.2V446.6M907.2 430.6V452.2" stroke="#000" stroke-width="1.65" fill="none"/>
<path d="M568.75 538.35V543.55M590.83 538.35V543.55M606.5 538.35V543.55M618.65 538.35V543.55M628.58 538.35V543.55M636.98 538.35V543.55M644.25 538.35V543.55M650.66 538.35V543.55M656.4 532.75V543.55M694.15 538.35V543.55M716.23 538.35V543.55M731.9 538.35V543.55M744.05 538.35V543.55M753.98 538.35V543.55M762.38 538.35V543.55M769.65 538.35V543.55M776.06 538.35V543.55M781.8 532.75V543.55M819.55 538.35V543.55M841.63 538.35V543.55M857.3 538.35V543.55M869.45 538.35V543.55M879.38 538.35V543.55M887.78 538.35V543.55M895.05 538.35V543.55M901.46 538.35V543.55M907.2 532.75V543.55" stroke="#000" stroke-width="1.65" fill="none"/>
<path d="M543.25 441.4H554.05M907.9 441.4H897.1M543.25 434.69H548.45M907.9 434.69H902.7M543.25 427.99H548.45M907.9 427.99H902.7M543.25 421.28H548.45M907.9 421.28H902.7M543.25 414.58H554.05M907.9 414.58H897.1M543.25 407.88H548.45M907.9 407.88H902.7M543.25 401.17H548.45M907.9 401.17H902.7M543.25 394.46H548.45M907.9 394.46H902.7M543.25 387.76H554.05M907.9 387.76H897.1M543.25 381.06H548.45M907.9 381.06H902.7M543.25 374.35H548.45M907.9 374.35H902.7M543.25 367.64H548.45M907.9 367.64H902.7M543.25 360.94H554.05M907.9 360.94H897.1M543.25 354.24H548.45M907.9 354.24H902.7M543.25 347.53H548.45M907.9 347.53H902.7M543.25 340.82H548.45M907.9 340.82H902.7M543.25 334.12H554.05M907.9 334.12H897.1M543.25 327.42H548.45M907.9 327.42H902.7M543.25 320.71H548.45M907.9 320.71H902.7M543.25 314H548.45M907.9 314H902.7M543.25 307.3H554.05M907.9 307.3H897.1" stroke="#000" stroke-width="1.65" fill="none"/>
<path d="M543.25 543.55H548.45M907.9 543.55H902.7M543.25 535.04H548.45M907.9 535.04H902.7M543.25 526.52H554.05M907.9 526.52H897.1M543.25 518.01H548.45M907.9 518.01H902.7M543.25 509.5H548.45M907.9 509.5H902.7M543.25 500.99H548.45M907.9 500.99H902.7M543.25 492.47H554.05M907.9 492.47H897.1M543.25 483.96H548.45M907.9 483.96H902.7M543.25 475.45H548.45M907.9 475.45H902.7M543.25 466.94H548.45M907.9 466.94H902.7M543.25 458.42H554.05M907.9 458.42H897.1M543.25 449.91H548.45M907.9 449.91H902.7M543.25 441.4H548.45M907.9 441.4H902.7" stroke="#000" stroke-width="1.65" fill="none"/>
<text transform="translate(534.15 447.3) scale(1.14 1)" text-anchor="end" font-size="17.7" fill="#000" stroke="#000" stroke-width="0.5">0</text>
<text transform="translate(534.15 420.48) scale(1.14 1)" text-anchor="end" font-size="17.7" fill="#000" stroke="#000" stroke-width="0.5">2</text>
<text transform="translate(534.15 393.66) scale(1.14 1)" text-anchor="end" font-size="17.7" fill="#000" stroke="#000" stroke-width="0.5">4</text>
<text transform="translate(534.15 366.84) scale(1.14 1)" text-anchor="end" font-size="17.7" fill="#000" stroke="#000" stroke-width="0.5">6</text>
<text transform="translate(534.15 340.02) scale(1.14 1)" text-anchor="end" font-size="17.7" fill="#000" stroke="#000" stroke-width="0.5">8</text>
<text transform="translate(534.15 313.2) scale(1.14 1)" text-anchor="end" font-size="17.7" fill="#000" stroke="#000" stroke-width="0.5" textLength="17.19" lengthAdjust="spacing">10</text>
<text transform="translate(534.15 532.42) scale(1.14 1)" text-anchor="end" font-size="17.7" fill="#000" stroke="#000" stroke-width="0.5" textLength="18.95" lengthAdjust="spacing">−2</text>
<text transform="translate(534.15 498.37) scale(1.14 1)" text-anchor="end" font-size="17.7" fill="#000" stroke="#000" stroke-width="0.5">0</text>
<text transform="translate(534.15 464.32) scale(1.14 1)" text-anchor="end" font-size="17.7" fill="#000" stroke="#000" stroke-width="0.5">2</text>
<text transform="translate(656.4 564.55) scale(1.14 1)" text-anchor="middle" font-size="17.7" fill="#000" stroke="#000" stroke-width="0.5" textLength="17.19" lengthAdjust="spacing">10</text>
<text transform="translate(781.8 564.55) scale(1.14 1)" text-anchor="middle" font-size="17.7" fill="#000" stroke="#000" stroke-width="0.5" textLength="26.23" lengthAdjust="spacing">100</text>
<text transform="translate(905.2 564.55) scale(1.14 1)" text-anchor="middle" font-size="17.7" fill="#000" stroke="#000" stroke-width="0.5" textLength="17.19" lengthAdjust="spacing">10</text>
<text transform="translate(917.9 559.55) scale(1.2 1)" text-anchor="middle" font-size="10.8" fill="#000" stroke="#000" stroke-width="0.6">3</text>
<text transform="translate(725.58 587.65) scale(1.14 1)" text-anchor="middle" font-size="17.8" fill="#000" stroke="#000" stroke-width="0.42" textLength="121.93" lengthAdjust="spacing">Radius [arcsec]</text>
<text transform="rotate(-90 43.1 374.45) translate(43.1 374.45) scale(1 1)" text-anchor="middle" font-size="18.8" fill="#000" stroke="#000" stroke-width="0.5" textLength="49.3" lengthAdjust="spacing">log(Σ)</text>
<text transform="rotate(-90 28.3 492.97) translate(28.3 492.97) scale(1 1)" text-anchor="middle" font-size="18.8" fill="#000" stroke="#000" stroke-width="0.5" textLength="60.5" lengthAdjust="spacing">Δlog(Σ)</text>
<g transform="rotate(-90 500 374.35)">
<text transform="translate(453.4 374.35) scale(0.95 1)" text-anchor="start" font-size="20.5" fill="#000" stroke="#000" stroke-width="0.5" font-style="italic">σ</text>
<text transform="translate(464.8 377.95) scale(1 1)" text-anchor="start" font-size="10.3" fill="#000" stroke="#000" stroke-width="0.6" textLength="12.2" lengthAdjust="spacing">1D</text>
<text transform="translate(485.8 374.35) scale(1.04 1)" text-anchor="start" font-size="21" fill="#000" stroke="#000" stroke-width="0.5" textLength="59.23" lengthAdjust="spacing">[km/s]</text>
</g>
<g transform="rotate(-90 498 493.17)">
<text transform="translate(452.7 493.17) scale(0.85 1)" text-anchor="start" font-size="18.8" fill="#000" stroke="#000" stroke-width="0.5">Δ</text>
<text transform="translate(462.8 493.17) scale(0.95 1)" text-anchor="start" font-size="20.5" fill="#000" stroke="#000" stroke-width="0.5" font-style="italic">σ</text>
<text transform="translate(483 493.17) scale(1.04 1)" text-anchor="start" font-size="21" fill="#000" stroke="#000" stroke-width="0.5" textLength="59.23" lengthAdjust="spacing">[km/s]</text>
</g>
<text transform="translate(366 339.1) scale(0.88 1)" text-anchor="start" font-size="15.6" fill="#00cd00" stroke="#00cd00" stroke-width="0.75" textLength="33.52" lengthAdjust="spacing">NGC</text>
<text transform="translate(403.6 339.1) scale(1 1)" text-anchor="start" font-size="15.6" fill="#00cd00" stroke="#00cd00" stroke-width="0.75" textLength="33" lengthAdjust="spacing">2419</text>
<g clip-path="url(#cLU2)">
<circle cx="130.11" cy="628.23" r="3.3" fill="#000"/>
<circle cx="157.75" cy="628.88" r="3.3" fill="#000"/>
<circle cx="178.92" cy="629.96" r="3.3" fill="#000"/>
<circle cx="192.53" cy="629.52" r="3.3" fill="#000"/>
<circle cx="207" cy="630.39" r="3.3" fill="#000"/>
<circle cx="223.84" cy="630.6" r="3.3" fill="#000"/>
<circle cx="235.08" cy="631.47" r="3.3" fill="#000"/>
<circle cx="244.58" cy="631.68" r="3.3" fill="#000"/>
<circle cx="250.6" cy="633.7" r="3.3" fill="#000"/>
<circle cx="252.8" cy="633.9" r="3.3" fill="#000"/>
<circle cx="255" cy="634.02" r="3.3" fill="#000"/>
<circle cx="257.2" cy="635.3" r="3.3" fill="#000"/>
<circle cx="259.4" cy="634.68" r="3.3" fill="#000"/>
<circle cx="261.6" cy="635.68" r="3.3" fill="#000"/>
<circle cx="263.8" cy="636.57" r="3.3" fill="#000"/>
<circle cx="266" cy="636" r="3.3" fill="#000"/>
<circle cx="268.2" cy="636.99" r="3.3" fill="#000"/>
<circle cx="270.4" cy="637.63" r="3.3" fill="#000"/>
<circle cx="272.6" cy="637.51" r="3.3" fill="#000"/>
<circle cx="274.8" cy="638.53" r="3.3" fill="#000"/>
<circle cx="277" cy="639.55" r="3.3" fill="#000"/>
<circle cx="279.2" cy="639.87" r="3.3" fill="#000"/>
<circle cx="281.4" cy="640.83" r="3.3" fill="#000"/>
<circle cx="283.6" cy="640.78" r="3.3" fill="#000"/>
<circle cx="285.8" cy="641.5" r="3.3" fill="#000"/>
<circle cx="288" cy="641.98" r="3.3" fill="#000"/>
<circle cx="290.2" cy="643.19" r="3.3" fill="#000"/>
<circle cx="292.4" cy="644.44" r="3.3" fill="#000"/>
<circle cx="294.6" cy="644.78" r="3.3" fill="#000"/>
<circle cx="296.8" cy="645.75" r="3.3" fill="#000"/>
<circle cx="299" cy="646.02" r="3.3" fill="#000"/>
<circle cx="301.2" cy="647.34" r="3.3" fill="#000"/>
<circle cx="303.4" cy="647.55" r="3.3" fill="#000"/>
<circle cx="305.6" cy="648.77" r="3.3" fill="#000"/>
<circle cx="307.8" cy="650.22" r="3.3" fill="#000"/>
<circle cx="310" cy="651.27" r="3.3" fill="#000"/>
<circle cx="312.2" cy="651.9" r="3.3" fill="#000"/>
<circle cx="314.4" cy="652.49" r="3.3" fill="#000"/>
<circle cx="316.6" cy="653.7" r="3.3" fill="#000"/>
<circle cx="318.8" cy="654.63" r="3.3" fill="#000"/>
<circle cx="321" cy="655.71" r="3.3" fill="#000"/>
<circle cx="323.2" cy="657.35" r="3.3" fill="#000"/>
<circle cx="325.4" cy="657.61" r="3.3" fill="#000"/>
<circle cx="327.6" cy="659.44" r="3.3" fill="#000"/>
<circle cx="329.8" cy="660.51" r="3.3" fill="#000"/>
<circle cx="332" cy="660.62" r="3.3" fill="#000"/>
<circle cx="334.2" cy="662.1" r="3.3" fill="#000"/>
<circle cx="336.4" cy="663.34" r="3.3" fill="#000"/>
<circle cx="338.6" cy="663.88" r="3.3" fill="#000"/>
<circle cx="340.8" cy="665.46" r="3.3" fill="#000"/>
<circle cx="343" cy="667.22" r="3.3" fill="#000"/>
<circle cx="345.2" cy="667.58" r="3.3" fill="#000"/>
<circle cx="347.4" cy="669.47" r="3.3" fill="#000"/>
<circle cx="349.6" cy="670.21" r="3.3" fill="#000"/>
<circle cx="351.8" cy="672.07" r="3.3" fill="#000"/>
<circle cx="354" cy="673.76" r="3.3" fill="#000"/>
<circle cx="356.2" cy="674.24" r="3.3" fill="#000"/>
<circle cx="358.4" cy="675.39" r="3.3" fill="#000"/>
<circle cx="360.6" cy="676.87" r="3.3" fill="#000"/>
<circle cx="362.8" cy="678.8" r="3.3" fill="#000"/>
<circle cx="365" cy="679.55" r="3.3" fill="#000"/>
<circle cx="367.2" cy="681.02" r="3.3" fill="#000"/>
<circle cx="369.4" cy="682.89" r="3.3" fill="#000"/>
<circle cx="371.6" cy="684.9" r="3.3" fill="#000"/>
<circle cx="373.8" cy="685.85" r="3.3" fill="#000"/>
<circle cx="376" cy="687.38" r="3.3" fill="#000"/>
<circle cx="378.2" cy="689.22" r="3.3" fill="#000"/>
<circle cx="380.4" cy="690.12" r="3.3" fill="#000"/>
<circle cx="382.6" cy="692.26" r="3.3" fill="#000"/>
<circle cx="384.8" cy="693.37" r="3.3" fill="#000"/>
<circle cx="387" cy="695.58" r="3.3" fill="#000"/>
<circle cx="389.2" cy="697.68" r="3.3" fill="#000"/>
<circle cx="391.4" cy="698.28" r="3.3" fill="#000"/>
<circle cx="393.6" cy="700.57" r="3.3" fill="#000"/>
<circle cx="395.8" cy="702.31" r="3.3" fill="#000"/>
<circle cx="398" cy="703.45" r="3.3" fill="#000"/>
<circle cx="400.2" cy="705.25" r="3.3" fill="#000"/>
<circle cx="402.4" cy="707.77" r="3.3" fill="#000"/>
<circle cx="404.6" cy="709.42" r="3.3" fill="#000"/>
<circle cx="406.8" cy="710.02" r="3.3" fill="#000"/>
<circle cx="409" cy="712.37" r="3.3" fill="#000"/>
<circle cx="411.2" cy="714.32" r="3.3" fill="#000"/>
<circle cx="413.4" cy="715.11" r="3.3" fill="#000"/>
<circle cx="415.6" cy="717.21" r="3.3" fill="#000"/>
<circle cx="417.8" cy="718.18" r="3.3" fill="#000"/>
<path d="M89.72 629.31 L121.04 629.31 L128.6 627.8 L134 629.31 L142.63 629.31 L149.11 627.37 L153.43 629.96 L170.71 629.96 L183.67 630.6 L220.39 630.6 L235.51 631.47 L252.79 633.84 L267.9 636.65 L272.96 637.95 L288.08 642.27 L300 646.3 L314 652.6 L328.1 659 L342.1 666 L356.2 674.4 L370.2 683.2 L384.2 693.1 L398.3 703.9 L412.3 714.4 L420.7 720.7 L430 727.7 L437.1 733" fill="none" stroke="#ff0000" stroke-width="1.5" stroke-linejoin="round" stroke-linecap="round"/>
</g>
<g clip-path="url(#cLL2)">
<line x1="89.65" y1="788.28" x2="454.2" y2="788.28" stroke="#000" stroke-width="1.65" stroke-dasharray="17.35 12.97"/>
<path d="M130.11 791.56 L158.19 766.07 L178.92 786.16 L192.53 771.68 L207 784 L235.08 780.32 L244.58 776 L252.14 781.19 L254.95 787.24 L260 790.04 L263.89 788.32 L266.48 790.48 L270.8 791.12 L275.12 792.2 L281.6 793.07 L288.08 791.56 L292.4 789.4 L295.64 786.8 L299.96 788.32 L304.28 791.12 L308.6 788.75 L316.16 788.32 L320.48 789.83 L324.79 790.04 L329.11 787.88 L332.35 791.12 L336.67 789.4 L340.35 786.16 L343.15 787.88 L347.47 787.88 L352.87 784 L357.19 782.48 L361.51 782.27 L365.4 782.92 L369.07 778.6 L372.74 776 L377.71 777.95 L382.03 779.68 L386.35 786.59 L390.67 795.44 L393.48 788.32 L398.23 790.04 L401.47 782.48 L404.71 782.92 L409.03 801.27 L413.35 805.59 L416.59 809.91 L419.4 812.07" fill="none" stroke="#000" stroke-width="1.65" stroke-linejoin="round" stroke-linecap="round"/>
</g>
<g clip-path="url(#cRU2)">
<path d="M615.29 597.52V626.33M611.59 597.52H618.99M611.59 626.33H618.99" stroke="#ffa500" stroke-width="1.6" fill="none"/>
<circle cx="615.29" cy="615.05" r="3.4" fill="#ffa500"/>
<path d="M669.66 610.04V618.81M665.96 610.04H673.36M665.96 618.81H673.36" stroke="#ffa500" stroke-width="1.6" fill="none"/>
<circle cx="669.66" cy="614.3" r="3.4" fill="#ffa500"/>
<path d="M684.19 616.31V625.08M680.49 616.31H687.89M680.49 625.08H687.89" stroke="#ffa500" stroke-width="1.6" fill="none"/>
<circle cx="684.19" cy="620.82" r="3.4" fill="#ffa500"/>
<path d="M691.71 620.06V628.83M688.01 620.06H695.41M688.01 628.83H695.41" stroke="#ffa500" stroke-width="1.6" fill="none"/>
<circle cx="691.71" cy="624.32" r="3.4" fill="#ffa500"/>
<path d="M703.73 618.56V622.07M700.03 618.56H707.43M700.03 622.07H707.43" stroke="#ffa500" stroke-width="1.6" fill="none"/>
<circle cx="703.73" cy="620.32" r="3.4" fill="#ffa500"/>
<path d="M703.52 619.06V622.07M699.82 619.06H707.22M699.82 622.07H707.22" stroke="#ffa500" stroke-width="1.6" fill="none"/>
<circle cx="703.52" cy="620.57" r="3.4" fill="#ffa500"/>
<path d="M716.05 624.07V627.08M712.35 624.07H719.75M712.35 627.08H719.75" stroke="#ffa500" stroke-width="1.6" fill="none"/>
<circle cx="716.05" cy="625.58" r="3.4" fill="#ffa500"/>
<path d="M724.57 622.82V625.83M720.87 622.82H728.27M720.87 625.83H728.27" stroke="#ffa500" stroke-width="1.6" fill="none"/>
<circle cx="724.57" cy="624.32" r="3.4" fill="#ffa500"/>
<path d="M730.83 625.08V628.08M727.13 625.08H734.53M727.13 628.08H734.53" stroke="#ffa500" stroke-width="1.6" fill="none"/>
<circle cx="730.83" cy="626.58" r="3.4" fill="#ffa500"/>
<path d="M735.34 632.59V635.1M731.64 632.59H739.04M731.64 635.1H739.04" stroke="#ffa500" stroke-width="1.6" fill="none"/>
<circle cx="735.34" cy="633.84" r="3.4" fill="#ffa500"/>
<path d="M739.6 632.59V635.1M735.9 632.59H743.3M735.9 635.1H743.3" stroke="#ffa500" stroke-width="1.6" fill="none"/>
<circle cx="739.6" cy="633.84" r="3.4" fill="#ffa500"/>
<circle cx="744.11" cy="635.6" r="3.4" fill="#ffa500"/>
<circle cx="747.87" cy="636.35" r="3.4" fill="#ffa500"/>
<circle cx="751.62" cy="636.85" r="3.4" fill="#ffa500"/>
<circle cx="755.38" cy="637.6" r="3.4" fill="#ffa500"/>
<circle cx="758.64" cy="638.35" r="3.4" fill="#ffa500"/>
<circle cx="759.64" cy="643.87" r="3.4" fill="#ffa500"/>
<circle cx="762.9" cy="646.37" r="3.4" fill="#ffa500"/>
<circle cx="769.16" cy="650.13" r="3.4" fill="#ffa500"/>
<circle cx="774.17" cy="651.38" r="3.4" fill="#ffa500"/>
<circle cx="779.18" cy="653.89" r="3.4" fill="#ffa500"/>
<circle cx="782.94" cy="655.64" r="3.4" fill="#ffa500"/>
<path d="M582.47 608.79V632.59M578.77 608.79H586.17M578.77 632.59H586.17" stroke="#0000b0" stroke-width="1.6" fill="none"/>
<circle cx="582.47" cy="621.32" r="3.5" fill="#0000b0"/>
<path d="M620.3 608.04V620.06M616.6 608.04H624M616.6 620.06H624" stroke="#0000b0" stroke-width="1.6" fill="none"/>
<circle cx="620.3" cy="614.05" r="3.5" fill="#0000b0"/>
<path d="M642.85 611.3V619.31M639.15 611.3H646.55M639.15 619.31H646.55" stroke="#0000b0" stroke-width="1.6" fill="none"/>
<circle cx="642.85" cy="615.05" r="3.5" fill="#0000b0"/>
<path d="M658.38 609.54V617.06M654.68 609.54H662.08M654.68 617.06H662.08" stroke="#0000b0" stroke-width="1.6" fill="none"/>
<circle cx="658.38" cy="613.05" r="3.5" fill="#0000b0"/>
<path d="M677.17 615.05V625.08M673.47 615.05H680.87M673.47 625.08H680.87" stroke="#0000b0" stroke-width="1.6" fill="none"/>
<circle cx="677.17" cy="620.06" r="3.5" fill="#0000b0"/>
<path d="M727.32 642.11V658.9M723.62 642.11H731.02M723.62 658.9H731.02" stroke="#0000b0" stroke-width="1.6" fill="none"/>
<circle cx="727.32" cy="650.63" r="3.5" fill="#0000b0"/>
<path d="M732.83 641.86V656.89M729.13 641.86H736.53M729.13 656.89H736.53" stroke="#0000b0" stroke-width="1.6" fill="none"/>
<circle cx="732.83" cy="649.38" r="3.5" fill="#0000b0"/>
<path d="M763.65 644.62V659.4M759.95 644.62H767.35M759.95 659.4H767.35" stroke="#0000b0" stroke-width="1.6" fill="none"/>
<circle cx="763.65" cy="651.88" r="3.5" fill="#0000b0"/>
<path d="M765.9 641.36V657.65M762.2 641.36H769.6M762.2 657.65H769.6" stroke="#0000b0" stroke-width="1.6" fill="none"/>
<circle cx="765.9" cy="649.38" r="3.5" fill="#0000b0"/>
<path d="M770.41 647.12V662.16M766.71 647.12H774.11M766.71 662.16H774.11" stroke="#0000b0" stroke-width="1.6" fill="none"/>
<circle cx="770.41" cy="654.64" r="3.5" fill="#0000b0"/>
<path d="M776.68 641.86V658.15M772.98 641.86H780.38M772.98 658.15H780.38" stroke="#0000b0" stroke-width="1.6" fill="none"/>
<circle cx="776.68" cy="650.13" r="3.5" fill="#0000b0"/>
<path d="M779.94 655.64V668.17M776.24 655.64H783.64M776.24 668.17H783.64" stroke="#0000b0" stroke-width="1.6" fill="none"/>
<circle cx="779.94" cy="661.9" r="3.5" fill="#0000b0"/>
<path d="M782.19 635.1V653.89M778.49 635.1H785.89M778.49 653.89H785.89" stroke="#0000b0" stroke-width="1.6" fill="none"/>
<circle cx="782.19" cy="644.37" r="3.5" fill="#0000b0"/>
<path d="M789.21 654.64V667.67M785.51 654.64H792.91M785.51 667.67H792.91" stroke="#0000b0" stroke-width="1.6" fill="none"/>
<circle cx="789.21" cy="661.4" r="3.5" fill="#0000b0"/>
<path d="M792.46 646.37V662.66M788.76 646.37H796.16M788.76 662.66H796.16" stroke="#0000b0" stroke-width="1.6" fill="none"/>
<circle cx="792.46" cy="654.39" r="3.5" fill="#0000b0"/>
<path d="M797.22 658.15V670.67M793.52 658.15H800.92M793.52 670.67H800.92" stroke="#0000b0" stroke-width="1.6" fill="none"/>
<circle cx="797.22" cy="664.41" r="3.5" fill="#0000b0"/>
<path d="M804.99 654.64V669.67M801.29 654.64H808.69M801.29 669.67H808.69" stroke="#0000b0" stroke-width="1.6" fill="none"/>
<circle cx="804.99" cy="661.9" r="3.5" fill="#0000b0"/>
<path d="M807.49 655.14V665.16M803.79 655.14H811.19M803.79 665.16H811.19" stroke="#0000b0" stroke-width="1.6" fill="none"/>
<circle cx="807.49" cy="660.15" r="3.5" fill="#0000b0"/>
<path d="M818.52 650.38V665.66M814.82 650.38H822.22M814.82 665.66H822.22" stroke="#0000b0" stroke-width="1.6" fill="none"/>
<circle cx="818.52" cy="658.15" r="3.5" fill="#0000b0"/>
<path d="M836.06 664.16V676.94M832.36 664.16H839.76M832.36 676.94H839.76" stroke="#0000b0" stroke-width="1.6" fill="none"/>
<circle cx="836.06" cy="670.92" r="3.5" fill="#0000b0"/>
<path d="M861.36 680.7V692.22M857.66 680.7H865.06M857.66 692.22H865.06" stroke="#0000b0" stroke-width="1.6" fill="none"/>
<circle cx="861.36" cy="686.96" r="3.5" fill="#0000b0"/>
<path d="M543.39 620.06 L552.66 618.31 L562.68 620.57 L575.21 619.56 L591.49 618.81 L597.75 623.07 L602.76 621.82 L612.79 623.82 L622.81 623.07 L629.07 621.32 L640.35 623.82 L650.37 625.83 L659.14 623.82 L664.15 627.08 L672.92 626.33 L680.43 627.08 L695.46 628.08 L694 628.08 L709.03 630.09 L717.8 632.59 L725.32 634.6 L731.58 635.1 L740.35 635.1 L747.87 638.86 L756.63 642.11 L766.66 645.62 L776.68 650.88 L785.45 654.64 L790.46 654.64 L799.23 661.4 L809.25 666.41 L819.27 675.18 L829.29 684.7 L834.3 684.7 L844.32 691.47 L854.35 697.23 L864.37 698.98 L871.88 702.74 L878.15 704 L881.9 705.75 L886.41 705.25 L891.93 709.01 L896.94 711.51 L901.95 711.51 L908.21 709.76" fill="none" stroke="#ff0000" stroke-width="1.5" stroke-linejoin="round" stroke-linecap="round"/>
</g>
<g clip-path="url(#cRL2)">
<line x1="543.25" y1="788.28" x2="907.9" y2="788.28" stroke="#000" stroke-width="1.65" stroke-dasharray="17.35 12.97"/>
<path d="M615.29 751.81V793.15M611.59 751.81H618.99M611.59 793.15H618.99" stroke="#ffa500" stroke-width="1.6" fill="none"/>
<circle cx="615.29" cy="773.1" r="3.4" fill="#ffa500"/>
<path d="M669.66 760.58V778.37M665.96 760.58H673.36M665.96 778.37H673.36" stroke="#ffa500" stroke-width="1.6" fill="none"/>
<circle cx="669.66" cy="769.6" r="3.4" fill="#ffa500"/>
<path d="M684.19 771.85V787.63M680.49 771.85H687.89M680.49 787.63H687.89" stroke="#ffa500" stroke-width="1.6" fill="none"/>
<circle cx="684.19" cy="779.62" r="3.4" fill="#ffa500"/>
<path d="M691.71 778.87V795.65M688.01 778.87H695.41M688.01 795.65H695.41" stroke="#ffa500" stroke-width="1.6" fill="none"/>
<circle cx="691.71" cy="787.13" r="3.4" fill="#ffa500"/>
<path d="M703.73 773.86V781.37M700.03 773.86H707.43M700.03 781.37H707.43" stroke="#ffa500" stroke-width="1.6" fill="none"/>
<circle cx="703.73" cy="777.61" r="3.4" fill="#ffa500"/>
<path d="M703.52 774.61V780.62M699.82 774.61H707.22M699.82 780.62H707.22" stroke="#ffa500" stroke-width="1.6" fill="none"/>
<circle cx="703.52" cy="777.61" r="3.4" fill="#ffa500"/>
<path d="M716.05 780.87V786.88M712.35 780.87H719.75M712.35 786.88H719.75" stroke="#ffa500" stroke-width="1.6" fill="none"/>
<circle cx="716.05" cy="783.88" r="3.4" fill="#ffa500"/>
<path d="M724.57 774.86V781.37M720.87 774.86H728.27M720.87 781.37H728.27" stroke="#ffa500" stroke-width="1.6" fill="none"/>
<circle cx="724.57" cy="778.11" r="3.4" fill="#ffa500"/>
<path d="M730.83 776.36V782.87M727.13 776.36H734.53M727.13 782.87H734.53" stroke="#ffa500" stroke-width="1.6" fill="none"/>
<circle cx="730.83" cy="779.62" r="3.4" fill="#ffa500"/>
<path d="M735.34 787.89V794.9M731.64 787.89H739.04M731.64 794.9H739.04" stroke="#ffa500" stroke-width="1.6" fill="none"/>
<circle cx="735.34" cy="791.39" r="3.4" fill="#ffa500"/>
<path d="M739.6 785.88V793.4M735.9 785.88H743.3M735.9 793.4H743.3" stroke="#ffa500" stroke-width="1.6" fill="none"/>
<circle cx="739.6" cy="789.64" r="3.4" fill="#ffa500"/>
<path d="M744.11 785.13V792.65M740.41 785.13H747.81M740.41 792.65H747.81" stroke="#ffa500" stroke-width="1.6" fill="none"/>
<circle cx="744.11" cy="788.89" r="3.4" fill="#ffa500"/>
<path d="M747.87 785.63V793.65M744.17 785.63H751.57M744.17 793.65H751.57" stroke="#ffa500" stroke-width="1.6" fill="none"/>
<circle cx="747.87" cy="789.64" r="3.4" fill="#ffa500"/>
<path d="M751.62 782.37V790.39M747.92 782.37H755.32M747.92 790.39H755.32" stroke="#ffa500" stroke-width="1.6" fill="none"/>
<circle cx="751.62" cy="786.38" r="3.4" fill="#ffa500"/>
<path d="M755.38 783.63V791.64M751.68 783.63H759.08M751.68 791.64H759.08" stroke="#ffa500" stroke-width="1.6" fill="none"/>
<circle cx="755.38" cy="787.63" r="3.4" fill="#ffa500"/>
<path d="M758.64 782.37V790.39M754.94 782.37H762.34M754.94 790.39H762.34" stroke="#ffa500" stroke-width="1.6" fill="none"/>
<circle cx="758.64" cy="786.38" r="3.4" fill="#ffa500"/>
<path d="M759.64 792.14V803.17M755.94 792.14H763.34M755.94 803.17H763.34" stroke="#ffa500" stroke-width="1.6" fill="none"/>
<circle cx="759.64" cy="797.66" r="3.4" fill="#ffa500"/>
<path d="M762.9 787.13V798.16M759.2 787.13H766.6M759.2 798.16H766.6" stroke="#ffa500" stroke-width="1.6" fill="none"/>
<circle cx="762.9" cy="792.65" r="3.4" fill="#ffa500"/>
<path d="M769.16 788.14V799.66M765.46 788.14H772.86M765.46 799.66H772.86" stroke="#ffa500" stroke-width="1.6" fill="none"/>
<circle cx="769.16" cy="793.9" r="3.4" fill="#ffa500"/>
<path d="M774.17 791.64V803.67M770.47 791.64H777.87M770.47 803.67H777.87" stroke="#ffa500" stroke-width="1.6" fill="none"/>
<circle cx="774.17" cy="797.66" r="3.4" fill="#ffa500"/>
<path d="M779.18 790.64V802.17M775.48 790.64H782.88M775.48 802.17H782.88" stroke="#ffa500" stroke-width="1.6" fill="none"/>
<circle cx="779.18" cy="796.4" r="3.4" fill="#ffa500"/>
<path d="M782.94 790.64V800.66M779.24 790.64H786.64M779.24 800.66H786.64" stroke="#ffa500" stroke-width="1.6" fill="none"/>
<circle cx="782.94" cy="795.65" r="3.4" fill="#ffa500"/>
<path d="M582.47 767.09V811.44M578.77 767.09H586.17M578.77 811.44H586.17" stroke="#0000b0" stroke-width="1.6" fill="none"/>
<circle cx="582.47" cy="789.39" r="3.5" fill="#0000b0"/>
<path d="M620.3 757.07V780.87M616.6 757.07H624M616.6 780.87H624" stroke="#0000b0" stroke-width="1.6" fill="none"/>
<circle cx="620.3" cy="769.6" r="3.5" fill="#0000b0"/>
<path d="M642.85 763.83V780.12M639.15 763.83H646.55M639.15 780.12H646.55" stroke="#0000b0" stroke-width="1.6" fill="none"/>
<circle cx="642.85" cy="771.85" r="3.5" fill="#0000b0"/>
<path d="M658.38 754.56V771.35M654.68 754.56H662.08M654.68 771.35H662.08" stroke="#0000b0" stroke-width="1.6" fill="none"/>
<circle cx="658.38" cy="763.33" r="3.5" fill="#0000b0"/>
<path d="M677.17 764.33V784.63M673.47 764.33H680.87M673.47 784.63H680.87" stroke="#0000b0" stroke-width="1.6" fill="none"/>
<circle cx="677.17" cy="775.11" r="3.5" fill="#0000b0"/>
<path d="M727.32 802.67V835.99M723.62 802.67H731.02M723.62 835.99H731.02" stroke="#0000b0" stroke-width="1.6" fill="none"/>
<circle cx="727.32" cy="820.71" r="3.5" fill="#0000b0"/>
<path d="M732.83 802.17V831.48M729.13 802.17H736.53M729.13 831.48H736.53" stroke="#0000b0" stroke-width="1.6" fill="none"/>
<circle cx="732.83" cy="816.95" r="3.5" fill="#0000b0"/>
<path d="M763.65 793.4V821.46M759.95 793.4H767.35M759.95 821.46H767.35" stroke="#0000b0" stroke-width="1.6" fill="none"/>
<circle cx="763.65" cy="807.68" r="3.5" fill="#0000b0"/>
<path d="M765.9 785.88V819.7M762.2 785.88H769.6M762.2 819.7H769.6" stroke="#0000b0" stroke-width="1.6" fill="none"/>
<circle cx="765.9" cy="803.92" r="3.5" fill="#0000b0"/>
<path d="M770.41 791.39V822.71M766.71 791.39H774.11M766.71 822.71H774.11" stroke="#0000b0" stroke-width="1.6" fill="none"/>
<circle cx="770.41" cy="808.43" r="3.5" fill="#0000b0"/>
<path d="M776.68 778.11V811.44M772.98 778.11H780.38M772.98 811.44H780.38" stroke="#0000b0" stroke-width="1.6" fill="none"/>
<circle cx="776.68" cy="795.65" r="3.5" fill="#0000b0"/>
<path d="M779.94 800.16V823.96M776.24 800.16H783.64M776.24 823.96H783.64" stroke="#0000b0" stroke-width="1.6" fill="none"/>
<circle cx="779.94" cy="811.44" r="3.5" fill="#0000b0"/>
<path d="M782.19 758.82V797.66M778.49 758.82H785.89M778.49 797.66H785.89" stroke="#0000b0" stroke-width="1.6" fill="none"/>
<circle cx="782.19" cy="778.11" r="3.5" fill="#0000b0"/>
<path d="M789.21 788.89V815.7M785.51 788.89H792.91M785.51 815.7H792.91" stroke="#0000b0" stroke-width="1.6" fill="none"/>
<circle cx="789.21" cy="803.17" r="3.5" fill="#0000b0"/>
<path d="M792.46 775.11V802.67M788.76 775.11H796.16M788.76 802.67H796.16" stroke="#0000b0" stroke-width="1.6" fill="none"/>
<circle cx="792.46" cy="788.89" r="3.5" fill="#0000b0"/>
<path d="M797.22 792.65V816.95M793.52 792.65H800.92M793.52 816.95H800.92" stroke="#0000b0" stroke-width="1.6" fill="none"/>
<circle cx="797.22" cy="805.17" r="3.5" fill="#0000b0"/>
<path d="M804.99 770.85V799.41M801.29 770.85H808.69M801.29 799.41H808.69" stroke="#0000b0" stroke-width="1.6" fill="none"/>
<circle cx="804.99" cy="785.88" r="3.5" fill="#0000b0"/>
<path d="M807.49 771.35V790.64M803.79 771.35H811.19M803.79 790.64H811.19" stroke="#0000b0" stroke-width="1.6" fill="none"/>
<circle cx="807.49" cy="781.37" r="3.5" fill="#0000b0"/>
<path d="M818.52 748.3V777.61M814.82 748.3H822.22M814.82 777.61H822.22" stroke="#0000b0" stroke-width="1.6" fill="none"/>
<circle cx="818.52" cy="764.33" r="3.5" fill="#0000b0"/>
<path d="M836.06 746.8V771.35M832.36 746.8H839.76M832.36 771.35H839.76" stroke="#0000b0" stroke-width="1.6" fill="none"/>
<circle cx="836.06" cy="760.08" r="3.5" fill="#0000b0"/>
<path d="M861.36 754.31V775.86M857.66 754.31H865.06M857.66 775.86H865.06" stroke="#0000b0" stroke-width="1.6" fill="none"/>
<circle cx="861.36" cy="765.84" r="3.5" fill="#0000b0"/>
</g>
<rect x="89.65" y="603.1" width="364.55" height="236.25" fill="none" stroke="#000" stroke-width="1.65"/>
<line x1="89.65" y1="737.2" x2="454.2" y2="737.2" stroke="#000" stroke-width="1.65"/>
<path d="M97.21 603.1V608.3M108.89 603.1V608.3M117.95 603.1V608.3M125.36 603.1V608.3M131.62 603.1V608.3M137.04 603.1V608.3M141.82 603.1V608.3M146.1 603.1V613.9M174.25 603.1V608.3M190.71 603.1V608.3M202.39 603.1V608.3M211.45 603.1V608.3M218.86 603.1V608.3M225.12 603.1V608.3M230.54 603.1V608.3M235.32 603.1V608.3M239.6 603.1V613.9M267.75 603.1V608.3M284.21 603.1V608.3M295.89 603.1V608.3M304.95 603.1V608.3M312.36 603.1V608.3M318.62 603.1V608.3M324.04 603.1V608.3M328.82 603.1V608.3M333.1 603.1V613.9M361.25 603.1V608.3M377.71 603.1V608.3M389.39 603.1V608.3M398.45 603.1V608.3M405.86 603.1V608.3M412.12 603.1V608.3M417.54 603.1V608.3M422.32 603.1V608.3M426.6 603.1V613.9" stroke="#000" stroke-width="1.65" fill="none"/>
<path d="M97.21 732V742.4M108.89 732V742.4M117.95 732V742.4M125.36 732V742.4M131.62 732V742.4M137.04 732V742.4M141.82 732V742.4M146.1 726.4V748M174.25 732V742.4M190.71 732V742.4M202.39 732V742.4M211.45 732V742.4M218.86 732V742.4M225.12 732V742.4M230.54 732V742.4M235.32 732V742.4M239.6 726.4V748M267.75 732V742.4M284.21 732V742.4M295.89 732V742.4M304.95 732V742.4M312.36 732V742.4M318.62 732V742.4M324.04 732V742.4M328.82 732V742.4M333.1 726.4V748M361.25 732V742.4M377.71 732V742.4M389.39 732V742.4M398.45 732V742.4M405.86 732V742.4M412.12 732V742.4M417.54 732V742.4M422.32 732V742.4M426.6 726.4V748" stroke="#000" stroke-width="1.65" fill="none"/>
<path d="M97.21 834.15V839.35M108.89 834.15V839.35M117.95 834.15V839.35M125.36 834.15V839.35M131.62 834.15V839.35M137.04 834.15V839.35M141.82 834.15V839.35M146.1 828.55V839.35M174.25 834.15V839.35M190.71 834.15V839.35M202.39 834.15V839.35M211.45 834.15V839.35M218.86 834.15V839.35M225.12 834.15V839.35M230.54 834.15V839.35M235.32 834.15V839.35M239.6 828.55V839.35M267.75 834.15V839.35M284.21 834.15V839.35M295.89 834.15V839.35M304.95 834.15V839.35M312.36 834.15V839.35M318.62 834.15V839.35M324.04 834.15V839.35M328.82 834.15V839.35M333.1 828.55V839.35M361.25 834.15V839.35M377.71 834.15V839.35M389.39 834.15V839.35M398.45 834.15V839.35M405.86 834.15V839.35M412.12 834.15V839.35M417.54 834.15V839.35M422.32 834.15V839.35M426.6 828.55V839.35" stroke="#000" stroke-width="1.65" fill="none"/>
<path d="M89.65 730.41H94.85M454.2 730.41H449M89.65 721.92H94.85M454.2 721.92H449M89.65 713.44H94.85M454.2 713.44H449M89.65 704.95H100.45M454.2 704.95H443.4M89.65 696.46H94.85M454.2 696.46H449M89.65 687.97H94.85M454.2 687.97H449M89.65 679.49H94.85M454.2 679.49H449M89.65 671H100.45M454.2 671H443.4M89.65 662.51H94.85M454.2 662.51H449M89.65 654.02H94.85M454.2 654.02H449M89.65 645.54H94.85M454.2 645.54H449M89.65 637.05H100.45M454.2 637.05H443.4M89.65 628.56H94.85M454.2 628.56H449M89.65 620.07H94.85M454.2 620.07H449M89.65 611.59H94.85M454.2 611.59H449M89.65 603.1H100.45M454.2 603.1H443.4" stroke="#000" stroke-width="1.65" fill="none"/>
<path d="M89.65 836.66H94.85M454.2 836.66H449M89.65 831.29H94.85M454.2 831.29H449M89.65 825.91H94.85M454.2 825.91H449M89.65 820.53H94.85M454.2 820.53H449M89.65 815.16H100.45M454.2 815.16H443.4M89.65 809.78H94.85M454.2 809.78H449M89.65 804.4H94.85M454.2 804.4H449M89.65 799.03H94.85M454.2 799.03H449M89.65 793.65H94.85M454.2 793.65H449M89.65 788.28H100.45M454.2 788.28H443.4M89.65 782.9H94.85M454.2 782.9H449M89.65 777.52H94.85M454.2 777.52H449M89.65 772.15H94.85M454.2 772.15H449M89.65 766.77H94.85M454.2 766.77H449M89.65 761.39H100.45M454.2 761.39H443.4M89.65 756.02H94.85M454.2 756.02H449M89.65 750.64H94.85M454.2 750.64H449M89.65 745.26H94.85M454.2 745.26H449M89.65 739.89H94.85M454.2 739.89H449" stroke="#000" stroke-width="1.65" fill="none"/>
<text transform="translate(79.55 710.85) scale(1.14 1)" text-anchor="end" font-size="17.7" fill="#000" stroke="#000" stroke-width="0.5" textLength="18.95" lengthAdjust="spacing">−8</text>
<text transform="translate(79.55 676.9) scale(1.14 1)" text-anchor="end" font-size="17.7" fill="#000" stroke="#000" stroke-width="0.5" textLength="18.95" lengthAdjust="spacing">−6</text>
<text transform="translate(79.55 642.95) scale(1.14 1)" text-anchor="end" font-size="17.7" fill="#000" stroke="#000" stroke-width="0.5" textLength="18.95" lengthAdjust="spacing">−4</text>
<text transform="translate(79.55 609) scale(1.14 1)" text-anchor="end" font-size="17.7" fill="#000" stroke="#000" stroke-width="0.5" textLength="18.95" lengthAdjust="spacing">−2</text>
<text transform="translate(78.25 821.06) scale(1.14 1)" text-anchor="end" font-size="17.7" fill="#000" stroke="#000" stroke-width="0.5" textLength="32.37" lengthAdjust="spacing">−0.1</text>
<text transform="translate(79.55 794.18) scale(1.14 1)" text-anchor="end" font-size="17.7" fill="#000" stroke="#000" stroke-width="0.5">0</text>
<text transform="translate(78.25 767.29) scale(1.14 1)" text-anchor="end" font-size="17.7" fill="#000" stroke="#000" stroke-width="0.5" textLength="21.58" lengthAdjust="spacing">0.1</text>
<text transform="translate(146.1 860.35) scale(1.14 1)" text-anchor="middle" font-size="17.7" fill="#000" stroke="#000" stroke-width="0.5">1</text>
<text transform="translate(239.6 860.35) scale(1.14 1)" text-anchor="middle" font-size="17.7" fill="#000" stroke="#000" stroke-width="0.5" textLength="17.19" lengthAdjust="spacing">10</text>
<text transform="translate(333.1 860.35) scale(1.14 1)" text-anchor="middle" font-size="17.7" fill="#000" stroke="#000" stroke-width="0.5" textLength="26.23" lengthAdjust="spacing">100</text>
<text transform="translate(424.6 860.35) scale(1.14 1)" text-anchor="middle" font-size="17.7" fill="#000" stroke="#000" stroke-width="0.5" textLength="17.19" lengthAdjust="spacing">10</text>
<text transform="translate(437.3 855.35) scale(1.2 1)" text-anchor="middle" font-size="10.8" fill="#000" stroke="#000" stroke-width="0.6">3</text>
<text transform="translate(271.93 883.45) scale(1.14 1)" text-anchor="middle" font-size="17.8" fill="#000" stroke="#000" stroke-width="0.42" textLength="121.93" lengthAdjust="spacing">Radius [arcsec]</text>
<rect x="543.25" y="603.1" width="364.65" height="236.25" fill="none" stroke="#000" stroke-width="1.65"/>
<line x1="543.25" y1="737.2" x2="907.9" y2="737.2" stroke="#000" stroke-width="1.65"/>
<path d="M568.75 603.1V608.3M590.83 603.1V608.3M606.5 603.1V608.3M618.65 603.1V608.3M628.58 603.1V608.3M636.98 603.1V608.3M644.25 603.1V608.3M650.66 603.1V608.3M656.4 603.1V613.9M694.15 603.1V608.3M716.23 603.1V608.3M731.9 603.1V608.3M744.05 603.1V608.3M753.98 603.1V608.3M762.38 603.1V608.3M769.65 603.1V608.3M776.06 603.1V608.3M781.8 603.1V613.9M819.55 603.1V608.3M841.63 603.1V608.3M857.3 603.1V608.3M869.45 603.1V608.3M879.38 603.1V608.3M887.78 603.1V608.3M895.05 603.1V608.3M901.46 603.1V608.3M907.2 603.1V613.9" stroke="#000" stroke-width="1.65" fill="none"/>
<path d="M568.75 732V742.4M590.83 732V742.4M606.5 732V742.4M618.65 732V742.4M628.58 732V742.4M636.98 732V742.4M644.25 732V742.4M650.66 732V742.4M656.4 726.4V748M694.15 732V742.4M716.23 732V742.4M731.9 732V742.4M744.05 732V742.4M753.98 732V742.4M762.38 732V742.4M769.65 732V742.4M776.06 732V742.4M781.8 726.4V748M819.55 732V742.4M841.63 732V742.4M857.3 732V742.4M869.45 732V742.4M879.38 732V742.4M887.78 732V742.4M895.05 732V742.4M901.46 732V742.4M907.2 726.4V748" stroke="#000" stroke-width="1.65" fill="none"/>
<path d="M568.75 834.15V839.35M590.83 834.15V839.35M606.5 834.15V839.35M618.65 834.15V839.35M628.58 834.15V839.35M636.98 834.15V839.35M644.25 834.15V839.35M650.66 834.15V839.35M656.4 828.55V839.35M694.15 834.15V839.35M716.23 834.15V839.35M731.9 834.15V839.35M744.05 834.15V839.35M753.98 834.15V839.35M762.38 834.15V839.35M769.65 834.15V839.35M776.06 834.15V839.35M781.8 828.55V839.35M819.55 834.15V839.35M841.63 834.15V839.35M857.3 834.15V839.35M869.45 834.15V839.35M879.38 834.15V839.35M887.78 834.15V839.35M895.05 834.15V839.35M901.46 834.15V839.35M907.2 828.55V839.35" stroke="#000" stroke-width="1.65" fill="none"/>
<path d="M543.25 737.2H554.05M907.9 737.2H897.1M543.25 728.26H548.45M907.9 728.26H902.7M543.25 719.32H548.45M907.9 719.32H902.7M543.25 710.38H548.45M907.9 710.38H902.7M543.25 701.44H548.45M907.9 701.44H902.7M543.25 692.5H554.05M907.9 692.5H897.1M543.25 683.56H548.45M907.9 683.56H902.7M543.25 674.62H548.45M907.9 674.62H902.7M543.25 665.68H548.45M907.9 665.68H902.7M543.25 656.74H548.45M907.9 656.74H902.7M543.25 647.8H554.05M907.9 647.8H897.1M543.25 638.86H548.45M907.9 638.86H902.7M543.25 629.92H548.45M907.9 629.92H902.7M543.25 620.98H548.45M907.9 620.98H902.7M543.25 612.04H548.45M907.9 612.04H902.7M543.25 603.1H554.05M907.9 603.1H897.1" stroke="#000" stroke-width="1.65" fill="none"/>
<path d="M543.25 839.35H548.45M907.9 839.35H902.7M543.25 830.84H548.45M907.9 830.84H902.7M543.25 822.33H554.05M907.9 822.33H897.1M543.25 813.81H548.45M907.9 813.81H902.7M543.25 805.3H548.45M907.9 805.3H902.7M543.25 796.79H548.45M907.9 796.79H902.7M543.25 788.28H554.05M907.9 788.28H897.1M543.25 779.76H548.45M907.9 779.76H902.7M543.25 771.25H548.45M907.9 771.25H902.7M543.25 762.74H548.45M907.9 762.74H902.7M543.25 754.23H554.05M907.9 754.23H897.1M543.25 745.71H548.45M907.9 745.71H902.7M543.25 737.2H548.45M907.9 737.2H902.7" stroke="#000" stroke-width="1.65" fill="none"/>
<text transform="translate(534.15 743.1) scale(1.14 1)" text-anchor="end" font-size="17.7" fill="#000" stroke="#000" stroke-width="0.5">0</text>
<text transform="translate(534.15 698.4) scale(1.14 1)" text-anchor="end" font-size="17.7" fill="#000" stroke="#000" stroke-width="0.5">5</text>
<text transform="translate(534.15 653.7) scale(1.14 1)" text-anchor="end" font-size="17.7" fill="#000" stroke="#000" stroke-width="0.5" textLength="17.19" lengthAdjust="spacing">10</text>
<text transform="translate(534.15 609) scale(1.14 1)" text-anchor="end" font-size="17.7" fill="#000" stroke="#000" stroke-width="0.5" textLength="17.19" lengthAdjust="spacing">15</text>
<text transform="translate(534.15 828.23) scale(1.14 1)" text-anchor="end" font-size="17.7" fill="#000" stroke="#000" stroke-width="0.5" textLength="18.95" lengthAdjust="spacing">−2</text>
<text transform="translate(534.15 794.18) scale(1.14 1)" text-anchor="end" font-size="17.7" fill="#000" stroke="#000" stroke-width="0.5">0</text>
<text transform="translate(534.15 760.12) scale(1.14 1)" text-anchor="end" font-size="17.7" fill="#000" stroke="#000" stroke-width="0.5">2</text>
<text transform="translate(656.4 860.35) scale(1.14 1)" text-anchor="middle" font-size="17.7" fill="#000" stroke="#000" stroke-width="0.5" textLength="17.19" lengthAdjust="spacing">10</text>
<text transform="translate(781.8 860.35) scale(1.14 1)" text-anchor="middle" font-size="17.7" fill="#000" stroke="#000" stroke-width="0.5" textLength="26.23" lengthAdjust="spacing">100</text>
<text transform="translate(905.2 860.35) scale(1.14 1)" text-anchor="middle" font-size="17.7" fill="#000" stroke="#000" stroke-width="0.5" textLength="17.19" lengthAdjust="spacing">10</text>
<text transform="translate(917.9 855.35) scale(1.2 1)" text-anchor="middle" font-size="10.8" fill="#000" stroke="#000" stroke-width="0.6">3</text>
<text transform="translate(725.58 883.45) scale(1.14 1)" text-anchor="middle" font-size="17.8" fill="#000" stroke="#000" stroke-width="0.42" textLength="121.93" lengthAdjust="spacing">Radius [arcsec]</text>
<text transform="rotate(-90 43.1 670.25) translate(43.1 670.25) scale(1 1)" text-anchor="middle" font-size="18.8" fill="#000" stroke="#000" stroke-width="0.5" textLength="49.3" lengthAdjust="spacing">log(Σ)</text>
<text transform="rotate(-90 28.3 788.78) translate(28.3 788.78) scale(1 1)" text-anchor="middle" font-size="18.8" fill="#000" stroke="#000" stroke-width="0.5" textLength="60.5" lengthAdjust="spacing">Δlog(Σ)</text>
<g transform="rotate(-90 500 670.15)">
<text transform="translate(453.4 670.15) scale(0.95 1)" text-anchor="start" font-size="20.5" fill="#000" stroke="#000" stroke-width="0.5" font-style="italic">σ</text>
<text transform="translate(464.8 673.75) scale(1 1)" text-anchor="start" font-size="10.3" fill="#000" stroke="#000" stroke-width="0.6" textLength="12.2" lengthAdjust="spacing">1D</text>
<text transform="translate(485.8 670.15) scale(1.04 1)" text-anchor="start" font-size="21" fill="#000" stroke="#000" stroke-width="0.5" textLength="59.23" lengthAdjust="spacing">[km/s]</text>
</g>
<g transform="rotate(-90 498 788.98)">
<text transform="translate(452.7 788.98) scale(0.85 1)" text-anchor="start" font-size="18.8" fill="#000" stroke="#000" stroke-width="0.5">Δ</text>
<text transform="translate(462.8 788.98) scale(0.95 1)" text-anchor="start" font-size="20.5" fill="#000" stroke="#000" stroke-width="0.5" font-style="italic">σ</text>
<text transform="translate(483 788.98) scale(1.04 1)" text-anchor="start" font-size="21" fill="#000" stroke="#000" stroke-width="0.5" textLength="59.23" lengthAdjust="spacing">[km/s]</text>
</g>
<text transform="translate(365.8 634.9) scale(0.88 1)" text-anchor="start" font-size="15.6" fill="#00cd00" stroke="#00cd00" stroke-width="0.75" textLength="33.52" lengthAdjust="spacing">NGC</text>
<text transform="translate(403.4 634.9) scale(1 1)" text-anchor="start" font-size="15.6" fill="#00cd00" stroke="#00cd00" stroke-width="0.75" textLength="33" lengthAdjust="spacing">2808</text>
<g clip-path="url(#cLU3)">
<circle cx="111.97" cy="932.52" r="3.3" fill="#000"/>
<circle cx="132.92" cy="932.52" r="3.3" fill="#000"/>
<circle cx="141.12" cy="932.52" r="3.3" fill="#000"/>
<circle cx="149.11" cy="932.52" r="3.3" fill="#000"/>
<circle cx="157.75" cy="932.52" r="3.3" fill="#000"/>
<circle cx="165.96" cy="932.52" r="3.3" fill="#000"/>
<path d="M173.95 930.79V935.11M170.55 930.79H177.35M170.55 935.11H177.35" stroke="#000" stroke-width="1.6" fill="none"/>
<circle cx="173.95" cy="932.95" r="3.3" fill="#000"/>
<path d="M181.51 931V936.19M178.11 931H184.91M178.11 936.19H184.91" stroke="#000" stroke-width="1.6" fill="none"/>
<circle cx="181.51" cy="933.6" r="3.3" fill="#000"/>
<path d="M189.07 931V936.19M185.67 931H192.47M185.67 936.19H192.47" stroke="#000" stroke-width="1.6" fill="none"/>
<circle cx="189.07" cy="933.6" r="3.3" fill="#000"/>
<path d="M197.71 930.79V935.54M194.31 930.79H201.11M194.31 935.54H201.11" stroke="#000" stroke-width="1.6" fill="none"/>
<circle cx="197.71" cy="933.16" r="3.3" fill="#000"/>
<path d="M207 929.28V937.92M203.6 929.28H210.4M203.6 937.92H210.4" stroke="#000" stroke-width="1.6" fill="none"/>
<circle cx="207" cy="933.6" r="3.3" fill="#000"/>
<path d="M214.99 930.79V935.11M211.59 930.79H218.39M211.59 935.11H218.39" stroke="#000" stroke-width="1.6" fill="none"/>
<circle cx="214.99" cy="932.95" r="3.3" fill="#000"/>
<path d="M222.55 931V936.19M219.15 931H225.95M219.15 936.19H225.95" stroke="#000" stroke-width="1.6" fill="none"/>
<circle cx="222.55" cy="933.6" r="3.3" fill="#000"/>
<path d="M231.19 928.84V939.43M227.79 928.84H234.59M227.79 939.43H234.59" stroke="#000" stroke-width="1.6" fill="none"/>
<circle cx="231.19" cy="933.6" r="3.3" fill="#000"/>
<path d="M234.43 930.36V938.13M231.03 930.36H237.83M231.03 938.13H237.83" stroke="#000" stroke-width="1.6" fill="none"/>
<circle cx="234.43" cy="933.81" r="3.3" fill="#000"/>
<path d="M238.75 930.79V936.4M235.35 930.79H242.15M235.35 936.4H242.15" stroke="#000" stroke-width="1.6" fill="none"/>
<circle cx="238.75" cy="933.6" r="3.3" fill="#000"/>
<path d="M246.31 930.79V935.11M242.91 930.79H249.71M242.91 935.11H249.71" stroke="#000" stroke-width="1.6" fill="none"/>
<circle cx="246.31" cy="932.95" r="3.3" fill="#000"/>
<path d="M252.79 930.79V935.11M249.39 930.79H256.19M249.39 935.11H256.19" stroke="#000" stroke-width="1.6" fill="none"/>
<circle cx="252.79" cy="932.95" r="3.3" fill="#000"/>
<circle cx="256.67" cy="932.95" r="3.3" fill="#000"/>
<circle cx="260.35" cy="932.95" r="3.3" fill="#000"/>
<path d="M264.02 931V934.89M260.62 931H267.42M260.62 934.89H267.42" stroke="#000" stroke-width="1.6" fill="none"/>
<circle cx="264.02" cy="932.95" r="3.3" fill="#000"/>
<circle cx="267.9" cy="932.52" r="3.3" fill="#000"/>
<circle cx="271.79" cy="932.52" r="3.3" fill="#000"/>
<path d="M275.46 930.79V934.24M272.06 930.79H278.86M272.06 934.24H278.86" stroke="#000" stroke-width="1.6" fill="none"/>
<circle cx="275.46" cy="932.52" r="3.3" fill="#000"/>
<circle cx="277" cy="932.72" r="3.3" fill="#000"/>
<circle cx="279.9" cy="933.6" r="3.3" fill="#000"/>
<circle cx="282.8" cy="933.6" r="3.3" fill="#000"/>
<circle cx="285.7" cy="934.34" r="3.3" fill="#000"/>
<circle cx="288.6" cy="934.66" r="3.3" fill="#000"/>
<circle cx="291.5" cy="933.88" r="3.3" fill="#000"/>
<circle cx="294.4" cy="934.03" r="3.3" fill="#000"/>
<circle cx="297.3" cy="935.75" r="3.3" fill="#000"/>
<circle cx="300.2" cy="934.94" r="3.3" fill="#000"/>
<circle cx="303.1" cy="935.13" r="3.3" fill="#000"/>
<circle cx="306" cy="936.74" r="3.3" fill="#000"/>
<circle cx="308.9" cy="936.17" r="3.3" fill="#000"/>
<circle cx="311.8" cy="937.49" r="3.3" fill="#000"/>
<circle cx="314.7" cy="937.49" r="3.3" fill="#000"/>
<circle cx="317.6" cy="938.44" r="3.3" fill="#000"/>
<circle cx="320.5" cy="938.22" r="3.3" fill="#000"/>
<circle cx="323.4" cy="939.74" r="3.3" fill="#000"/>
<circle cx="326.3" cy="940.61" r="3.3" fill="#000"/>
<circle cx="329.2" cy="940.45" r="3.3" fill="#000"/>
<circle cx="332.1" cy="941.81" r="3.3" fill="#000"/>
<circle cx="335" cy="942.65" r="3.3" fill="#000"/>
<circle cx="337.9" cy="942.52" r="3.3" fill="#000"/>
<circle cx="340.8" cy="944.74" r="3.3" fill="#000"/>
<circle cx="343.7" cy="945.48" r="3.3" fill="#000"/>
<circle cx="346.6" cy="946.07" r="3.3" fill="#000"/>
<circle cx="349.5" cy="946.7" r="3.3" fill="#000"/>
<circle cx="352.4" cy="949.31" r="3.3" fill="#000"/>
<circle cx="355.3" cy="949.73" r="3.3" fill="#000"/>
<circle cx="358.2" cy="951.48" r="3.3" fill="#000"/>
<circle cx="361.1" cy="953.08" r="3.3" fill="#000"/>
<circle cx="364" cy="954.08" r="3.3" fill="#000"/>
<circle cx="366.9" cy="955.76" r="3.3" fill="#000"/>
<circle cx="369.8" cy="956.36" r="3.3" fill="#000"/>
<circle cx="372.7" cy="958.78" r="3.3" fill="#000"/>
<circle cx="375.6" cy="959.83" r="3.3" fill="#000"/>
<circle cx="378.5" cy="962.41" r="3.3" fill="#000"/>
<circle cx="381.4" cy="964.01" r="3.3" fill="#000"/>
<circle cx="384.3" cy="964.39" r="3.3" fill="#000"/>
<circle cx="387.2" cy="966.25" r="3.3" fill="#000"/>
<circle cx="390.1" cy="968.19" r="3.3" fill="#000"/>
<circle cx="393" cy="971.32" r="3.3" fill="#000"/>
<circle cx="395.9" cy="972.26" r="3.3" fill="#000"/>
<circle cx="398.8" cy="974.53" r="3.3" fill="#000"/>
<circle cx="401.7" cy="975.88" r="3.3" fill="#000"/>
<circle cx="404.6" cy="978.19" r="3.3" fill="#000"/>
<circle cx="407.5" cy="979.93" r="3.3" fill="#000"/>
<circle cx="410.4" cy="981.95" r="3.3" fill="#000"/>
<circle cx="413.3" cy="984.45" r="3.3" fill="#000"/>
<circle cx="416.2" cy="986.52" r="3.3" fill="#000"/>
<circle cx="419.1" cy="989.18" r="3.3" fill="#000"/>
<circle cx="422" cy="990.82" r="3.3" fill="#000"/>
<circle cx="424.9" cy="993.29" r="3.3" fill="#000"/>
<circle cx="427.8" cy="995.19" r="3.3" fill="#000"/>
<circle cx="430.7" cy="997.48" r="3.3" fill="#000"/>
<circle cx="433.6" cy="999.39" r="3.3" fill="#000"/>
<circle cx="436.5" cy="1000.96" r="3.3" fill="#000"/>
<path d="M300 932.6V936.67M296.6 932.6H303.4M296.6 936.67H303.4" stroke="#000" stroke-width="1.6" fill="none"/>
<circle cx="300" cy="934.63" r="3.3" fill="#000"/>
<path d="M309.73 935.44V938.14M306.33 935.44H313.13M306.33 938.14H313.13" stroke="#000" stroke-width="1.6" fill="none"/>
<circle cx="309.73" cy="936.79" r="3.3" fill="#000"/>
<path d="M320.31 938.41V942.25M316.91 938.41H323.71M316.91 942.25H323.71" stroke="#000" stroke-width="1.6" fill="none"/>
<circle cx="320.31" cy="940.33" r="3.3" fill="#000"/>
<path d="M329.34 938.97V940.98M325.94 938.97H332.74M325.94 940.98H332.74" stroke="#000" stroke-width="1.6" fill="none"/>
<circle cx="329.34" cy="939.98" r="3.3" fill="#000"/>
<path d="M337.64 942.82V945.11M334.24 942.82H341.04M334.24 945.11H341.04" stroke="#000" stroke-width="1.6" fill="none"/>
<circle cx="337.64" cy="943.97" r="3.3" fill="#000"/>
<path d="M348.23 945.06V948.08M344.83 945.06H351.63M344.83 948.08H351.63" stroke="#000" stroke-width="1.6" fill="none"/>
<circle cx="348.23" cy="946.57" r="3.3" fill="#000"/>
<path d="M354.76 949.05V954.44M351.36 949.05H358.16M351.36 954.44H358.16" stroke="#000" stroke-width="1.6" fill="none"/>
<circle cx="354.76" cy="951.75" r="3.3" fill="#000"/>
<path d="M365.78 954.27V956.44M362.38 954.27H369.18M362.38 956.44H369.18" stroke="#000" stroke-width="1.6" fill="none"/>
<circle cx="365.78" cy="955.36" r="3.3" fill="#000"/>
<path d="M373.86 958.06V960.65M370.46 958.06H377.26M370.46 960.65H377.26" stroke="#000" stroke-width="1.6" fill="none"/>
<circle cx="373.86" cy="959.36" r="3.3" fill="#000"/>
<path d="M385.3 964.3V967.15M381.9 964.3H388.7M381.9 967.15H388.7" stroke="#000" stroke-width="1.6" fill="none"/>
<circle cx="385.3" cy="965.72" r="3.3" fill="#000"/>
<path d="M396.01 967.9V975.27M392.61 967.9H399.41M392.61 975.27H399.41" stroke="#000" stroke-width="1.6" fill="none"/>
<circle cx="396.01" cy="971.58" r="3.3" fill="#000"/>
<path d="M404.76 976.88V980.95M401.36 976.88H408.16M401.36 980.95H408.16" stroke="#000" stroke-width="1.6" fill="none"/>
<circle cx="404.76" cy="978.91" r="3.3" fill="#000"/>
<path d="M413.68 982.8V985.03M410.28 982.8H417.08M410.28 985.03H417.08" stroke="#000" stroke-width="1.6" fill="none"/>
<circle cx="413.68" cy="983.92" r="3.3" fill="#000"/>
<path d="M424.65 988.29V995.45M421.25 988.29H428.05M421.25 995.45H428.05" stroke="#000" stroke-width="1.6" fill="none"/>
<circle cx="424.65" cy="991.87" r="3.3" fill="#000"/>
<path d="M432.08 995.81V1003.92M428.68 995.81H435.48M428.68 1003.92H435.48" stroke="#000" stroke-width="1.6" fill="none"/>
<circle cx="432.08" cy="999.87" r="3.3" fill="#000"/>
<path d="M89.65 932.2 L249 932.6 L271.6 932.3 L287 934 L307.9 935.7 L323.4 939.2 L329.11 940.08 L342.07 944.4 L355.03 949.36 L367.99 955.19 L380.95 962.75 L393.91 970.75 L406.87 979.38 L419.83 988.67 L430.63 996.23 L438.19 1002.71 L443.59 1008.11 L450.06 1014.59 L454.38 1018.91 L456.54 1021.5" fill="none" stroke="#ff0000" stroke-width="1.5" stroke-linejoin="round" stroke-linecap="round"/>
</g>
<g clip-path="url(#cLL3)">
<line x1="89.65" y1="1084.08" x2="454.2" y2="1084.08" stroke="#000" stroke-width="1.65" stroke-dasharray="17.35 12.97"/>
<path d="M112.4 1089.36 L140.48 1090.44 L151.27 1091.52 L165.96 1093.03 L173.95 1090.23 L183.67 1090.87 L191.23 1092.39 L198.79 1095.19 L206.78 1098.87 L215.42 1091.95 L220.82 1090.23 L222.55 1083.32 L226.87 1085.48 L230.76 1088.07 L233.78 1083.32 L246.31 1082.67 L252.79 1081.16 L259.27 1080.08 L263.59 1081.16 L271.14 1077.92 L274.04 1074.68 L279.44 1072.08 L285.92 1070.79 L290.24 1070.36 L295.64 1068.84 L301.04 1067.55 L307.52 1068.84 L314 1069.92 L321.56 1071 L329.11 1073.6 L335.59 1076.19 L339.91 1077.27 L346.39 1080.51 L352.87 1083.32 L357.19 1086.12 L360.43 1086.12 L365.83 1089.79 L370.15 1093.03 L374.47 1095.84 L380.95 1094.55 L388.51 1097.35 L396.07 1098 L399.31 1097.79 L403.63 1095.19 L409.03 1090.87 L413.35 1089.15 L417.67 1081.16 L423.07 1075.32 L428.47 1065.6 L432.79 1062.8 L436.67 1059.56" fill="none" stroke="#000" stroke-width="1.65" stroke-linejoin="round" stroke-linecap="round"/>
</g>
<g clip-path="url(#cRU3)">
<path d="M720.56 946.88V960.66M716.86 946.88H724.26M716.86 960.66H724.26" stroke="#0000b0" stroke-width="1.6" fill="none"/>
<circle cx="720.56" cy="954.4" r="3.5" fill="#0000b0"/>
<path d="M751.62 945.88V959.41M747.92 945.88H755.32M747.92 959.41H755.32" stroke="#0000b0" stroke-width="1.6" fill="none"/>
<circle cx="751.62" cy="953.15" r="3.5" fill="#0000b0"/>
<path d="M772.92 945.13V958.66M769.22 945.13H776.62M769.22 958.66H776.62" stroke="#0000b0" stroke-width="1.6" fill="none"/>
<circle cx="772.92" cy="952.14" r="3.5" fill="#0000b0"/>
<path d="M790.71 941.37V956.4M787.01 941.37H794.41M787.01 956.4H794.41" stroke="#0000b0" stroke-width="1.6" fill="none"/>
<circle cx="790.71" cy="949.39" r="3.5" fill="#0000b0"/>
<path d="M805.99 940.12V955.9M802.29 940.12H809.69M802.29 955.9H809.69" stroke="#0000b0" stroke-width="1.6" fill="none"/>
<circle cx="805.99" cy="948.39" r="3.5" fill="#0000b0"/>
<path d="M822.78 949.64V964.42M819.08 949.64H826.48M819.08 964.42H826.48" stroke="#0000b0" stroke-width="1.6" fill="none"/>
<circle cx="822.78" cy="957.66" r="3.5" fill="#0000b0"/>
<path d="M843.32 949.39V963.42M839.62 949.39H847.02M839.62 963.42H847.02" stroke="#0000b0" stroke-width="1.6" fill="none"/>
<circle cx="843.32" cy="956.9" r="3.5" fill="#0000b0"/>
<path d="M878.9 975.19V986.47M875.2 975.19H882.6M875.2 986.47H882.6" stroke="#0000b0" stroke-width="1.6" fill="none"/>
<circle cx="878.9" cy="980.96" r="3.5" fill="#0000b0"/>
<path d="M543.39 937.36 L590.24 937.36 L604.02 938.37 L612.79 936.86 L618.3 934.36 L623.31 936.61 L632.83 933.86 L637.84 933.86 L646.61 936.36 L652.87 937.11 L661.64 939.62 L666.15 937.61 L671.66 938.87 L680.43 940.12 L685.44 939.62 L695.46 940.12 L702.98 941.62 L706.53 941.62 L719.05 941.62 L729.08 942.12 L736.59 940.87 L749.12 943.38 L759.14 944.38 L771.67 945.13 L781.69 946.38 L794.22 951.39 L804.24 953.9 L816.76 957.66 L826.79 961.92 L836.81 965.92 L846.83 971.44 L856.85 977.2 L866.87 983.96 L874.39 989.73 L881.9 993.23 L888.17 994.49 L893.18 998.24 L898.19 997.74 L903.2 1002.75 L908.21 1004.76" fill="none" stroke="#ff0000" stroke-width="1.5" stroke-linejoin="round" stroke-linecap="round"/>
</g>
<g clip-path="url(#cRL3)">
<line x1="543.25" y1="1084.08" x2="907.9" y2="1084.08" stroke="#000" stroke-width="1.65" stroke-dasharray="17.35 12.97"/>
<path d="M720.56 1094.66V1127.23M716.86 1094.66H724.26M716.86 1127.23H724.26" stroke="#0000b0" stroke-width="1.6" fill="none"/>
<circle cx="720.56" cy="1112.7" r="3.5" fill="#0000b0"/>
<path d="M751.62 1090.15V1122.72M747.92 1090.15H755.32M747.92 1122.72H755.32" stroke="#0000b0" stroke-width="1.6" fill="none"/>
<circle cx="751.62" cy="1107.69" r="3.5" fill="#0000b0"/>
<path d="M772.92 1081.88V1114.7M769.22 1081.88H776.62M769.22 1114.7H776.62" stroke="#0000b0" stroke-width="1.6" fill="none"/>
<circle cx="772.92" cy="1099.42" r="3.5" fill="#0000b0"/>
<path d="M790.71 1067.6V1102.68M787.01 1067.6H794.41M787.01 1102.68H794.41" stroke="#0000b0" stroke-width="1.6" fill="none"/>
<circle cx="790.71" cy="1086.39" r="3.5" fill="#0000b0"/>
<path d="M805.99 1056.83V1092.66M802.29 1056.83H809.69M802.29 1092.66H809.69" stroke="#0000b0" stroke-width="1.6" fill="none"/>
<circle cx="805.99" cy="1075.87" r="3.5" fill="#0000b0"/>
<path d="M822.78 1064.6V1097.67M819.08 1064.6H826.48M819.08 1097.67H826.48" stroke="#0000b0" stroke-width="1.6" fill="none"/>
<circle cx="822.78" cy="1082.63" r="3.5" fill="#0000b0"/>
<path d="M843.32 1041.8V1073.87M839.62 1041.8H847.02M839.62 1073.87H847.02" stroke="#0000b0" stroke-width="1.6" fill="none"/>
<circle cx="843.32" cy="1058.83" r="3.5" fill="#0000b0"/>
<path d="M878.9 1045.81V1071.36M875.2 1045.81H882.6M875.2 1071.36H882.6" stroke="#0000b0" stroke-width="1.6" fill="none"/>
<circle cx="878.9" cy="1059.59" r="3.5" fill="#0000b0"/>
</g>
<rect x="89.65" y="898.9" width="364.55" height="236.25" fill="none" stroke="#000" stroke-width="1.65"/>
<line x1="89.65" y1="1033" x2="454.2" y2="1033" stroke="#000" stroke-width="1.65"/>
<path d="M97.21 898.9V904.1M108.89 898.9V904.1M117.95 898.9V904.1M125.36 898.9V904.1M131.62 898.9V904.1M137.04 898.9V904.1M141.82 898.9V904.1M146.1 898.9V909.7M174.25 898.9V904.1M190.71 898.9V904.1M202.39 898.9V904.1M211.45 898.9V904.1M218.86 898.9V904.1M225.12 898.9V904.1M230.54 898.9V904.1M235.32 898.9V904.1M239.6 898.9V909.7M267.75 898.9V904.1M284.21 898.9V904.1M295.89 898.9V904.1M304.95 898.9V904.1M312.36 898.9V904.1M318.62 898.9V904.1M324.04 898.9V904.1M328.82 898.9V904.1M333.1 898.9V909.7M361.25 898.9V904.1M377.71 898.9V904.1M389.39 898.9V904.1M398.45 898.9V904.1M405.86 898.9V904.1M412.12 898.9V904.1M417.54 898.9V904.1M422.32 898.9V904.1M426.6 898.9V909.7" stroke="#000" stroke-width="1.65" fill="none"/>
<path d="M97.21 1027.8V1038.2M108.89 1027.8V1038.2M117.95 1027.8V1038.2M125.36 1027.8V1038.2M131.62 1027.8V1038.2M137.04 1027.8V1038.2M141.82 1027.8V1038.2M146.1 1022.2V1043.8M174.25 1027.8V1038.2M190.71 1027.8V1038.2M202.39 1027.8V1038.2M211.45 1027.8V1038.2M218.86 1027.8V1038.2M225.12 1027.8V1038.2M230.54 1027.8V1038.2M235.32 1027.8V1038.2M239.6 1022.2V1043.8M267.75 1027.8V1038.2M284.21 1027.8V1038.2M295.89 1027.8V1038.2M304.95 1027.8V1038.2M312.36 1027.8V1038.2M318.62 1027.8V1038.2M324.04 1027.8V1038.2M328.82 1027.8V1038.2M333.1 1022.2V1043.8M361.25 1027.8V1038.2M377.71 1027.8V1038.2M389.39 1027.8V1038.2M398.45 1027.8V1038.2M405.86 1027.8V1038.2M412.12 1027.8V1038.2M417.54 1027.8V1038.2M422.32 1027.8V1038.2M426.6 1022.2V1043.8" stroke="#000" stroke-width="1.65" fill="none"/>
<path d="M97.21 1129.95V1135.15M108.89 1129.95V1135.15M117.95 1129.95V1135.15M125.36 1129.95V1135.15M131.62 1129.95V1135.15M137.04 1129.95V1135.15M141.82 1129.95V1135.15M146.1 1124.35V1135.15M174.25 1129.95V1135.15M190.71 1129.95V1135.15M202.39 1129.95V1135.15M211.45 1129.95V1135.15M218.86 1129.95V1135.15M225.12 1129.95V1135.15M230.54 1129.95V1135.15M235.32 1129.95V1135.15M239.6 1124.35V1135.15M267.75 1129.95V1135.15M284.21 1129.95V1135.15M295.89 1129.95V1135.15M304.95 1129.95V1135.15M312.36 1129.95V1135.15M318.62 1129.95V1135.15M324.04 1129.95V1135.15M328.82 1129.95V1135.15M333.1 1124.35V1135.15M361.25 1129.95V1135.15M377.71 1129.95V1135.15M389.39 1129.95V1135.15M398.45 1129.95V1135.15M405.86 1129.95V1135.15M412.12 1129.95V1135.15M417.54 1129.95V1135.15M422.32 1129.95V1135.15M426.6 1124.35V1135.15" stroke="#000" stroke-width="1.65" fill="none"/>
<path d="M89.65 1033H100.45M454.2 1033H443.4M89.65 1023.42H94.85M454.2 1023.42H449M89.65 1013.84H94.85M454.2 1013.84H449M89.65 1004.26H94.85M454.2 1004.26H449M89.65 994.69H100.45M454.2 994.69H443.4M89.65 985.11H94.85M454.2 985.11H449M89.65 975.53H94.85M454.2 975.53H449M89.65 965.95H94.85M454.2 965.95H449M89.65 956.37H100.45M454.2 956.37H443.4M89.65 946.79H94.85M454.2 946.79H449M89.65 937.21H94.85M454.2 937.21H449M89.65 927.64H94.85M454.2 927.64H449M89.65 918.06H100.45M454.2 918.06H443.4M89.65 908.48H94.85M454.2 908.48H449M89.65 898.9H94.85M454.2 898.9H449" stroke="#000" stroke-width="1.65" fill="none"/>
<path d="M89.65 1132.46H94.85M454.2 1132.46H449M89.65 1127.09H94.85M454.2 1127.09H449M89.65 1121.71H94.85M454.2 1121.71H449M89.65 1116.33H94.85M454.2 1116.33H449M89.65 1110.96H100.45M454.2 1110.96H443.4M89.65 1105.58H94.85M454.2 1105.58H449M89.65 1100.2H94.85M454.2 1100.2H449M89.65 1094.83H94.85M454.2 1094.83H449M89.65 1089.45H94.85M454.2 1089.45H449M89.65 1084.08H100.45M454.2 1084.08H443.4M89.65 1078.7H94.85M454.2 1078.7H449M89.65 1073.32H94.85M454.2 1073.32H449M89.65 1067.95H94.85M454.2 1067.95H449M89.65 1062.57H94.85M454.2 1062.57H449M89.65 1057.19H100.45M454.2 1057.19H443.4M89.65 1051.82H94.85M454.2 1051.82H449M89.65 1046.44H94.85M454.2 1046.44H449M89.65 1041.06H94.85M454.2 1041.06H449M89.65 1035.69H94.85M454.2 1035.69H449" stroke="#000" stroke-width="1.65" fill="none"/>
<text transform="translate(79.55 1038.9) scale(1.14 1)" text-anchor="end" font-size="17.7" fill="#000" stroke="#000" stroke-width="0.5" textLength="27.98" lengthAdjust="spacing">−10</text>
<text transform="translate(79.55 1000.59) scale(1.14 1)" text-anchor="end" font-size="17.7" fill="#000" stroke="#000" stroke-width="0.5" textLength="18.95" lengthAdjust="spacing">−8</text>
<text transform="translate(79.55 962.27) scale(1.14 1)" text-anchor="end" font-size="17.7" fill="#000" stroke="#000" stroke-width="0.5" textLength="18.95" lengthAdjust="spacing">−6</text>
<text transform="translate(79.55 923.96) scale(1.14 1)" text-anchor="end" font-size="17.7" fill="#000" stroke="#000" stroke-width="0.5" textLength="18.95" lengthAdjust="spacing">−4</text>
<text transform="translate(78.25 1116.86) scale(1.14 1)" text-anchor="end" font-size="17.7" fill="#000" stroke="#000" stroke-width="0.5" textLength="32.37" lengthAdjust="spacing">−0.1</text>
<text transform="translate(79.55 1089.98) scale(1.14 1)" text-anchor="end" font-size="17.7" fill="#000" stroke="#000" stroke-width="0.5">0</text>
<text transform="translate(78.25 1063.09) scale(1.14 1)" text-anchor="end" font-size="17.7" fill="#000" stroke="#000" stroke-width="0.5" textLength="21.58" lengthAdjust="spacing">0.1</text>
<text transform="translate(146.1 1156.15) scale(1.14 1)" text-anchor="middle" font-size="17.7" fill="#000" stroke="#000" stroke-width="0.5">1</text>
<text transform="translate(239.6 1156.15) scale(1.14 1)" text-anchor="middle" font-size="17.7" fill="#000" stroke="#000" stroke-width="0.5" textLength="17.19" lengthAdjust="spacing">10</text>
<text transform="translate(333.1 1156.15) scale(1.14 1)" text-anchor="middle" font-size="17.7" fill="#000" stroke="#000" stroke-width="0.5" textLength="26.23" lengthAdjust="spacing">100</text>
<text transform="translate(424.6 1156.15) scale(1.14 1)" text-anchor="middle" font-size="17.7" fill="#000" stroke="#000" stroke-width="0.5" textLength="17.19" lengthAdjust="spacing">10</text>
<text transform="translate(437.3 1151.15) scale(1.2 1)" text-anchor="middle" font-size="10.8" fill="#000" stroke="#000" stroke-width="0.6">3</text>
<text transform="translate(271.93 1179.25) scale(1.14 1)" text-anchor="middle" font-size="17.8" fill="#000" stroke="#000" stroke-width="0.42" textLength="121.93" lengthAdjust="spacing">Radius [arcsec]</text>
<rect x="543.25" y="898.9" width="364.65" height="236.25" fill="none" stroke="#000" stroke-width="1.65"/>
<line x1="543.25" y1="1033" x2="907.9" y2="1033" stroke="#000" stroke-width="1.65"/>
<path d="M566.56 898.9V904.1M587.3 898.9V904.1M602.02 898.9V904.1M613.44 898.9V904.1M622.77 898.9V904.1M630.65 898.9V904.1M637.48 898.9V904.1M643.51 898.9V904.1M648.9 898.9V909.7M684.36 898.9V904.1M705.1 898.9V904.1M719.82 898.9V904.1M731.24 898.9V904.1M740.57 898.9V904.1M748.45 898.9V904.1M755.28 898.9V904.1M761.31 898.9V904.1M766.7 898.9V909.7M802.16 898.9V904.1M822.9 898.9V904.1M837.62 898.9V904.1M849.04 898.9V904.1M858.37 898.9V904.1M866.25 898.9V904.1M873.08 898.9V904.1M879.11 898.9V904.1M884.5 898.9V909.7" stroke="#000" stroke-width="1.65" fill="none"/>
<path d="M566.56 1027.8V1038.2M587.3 1027.8V1038.2M602.02 1027.8V1038.2M613.44 1027.8V1038.2M622.77 1027.8V1038.2M630.65 1027.8V1038.2M637.48 1027.8V1038.2M643.51 1027.8V1038.2M648.9 1022.2V1043.8M684.36 1027.8V1038.2M705.1 1027.8V1038.2M719.82 1027.8V1038.2M731.24 1027.8V1038.2M740.57 1027.8V1038.2M748.45 1027.8V1038.2M755.28 1027.8V1038.2M761.31 1027.8V1038.2M766.7 1022.2V1043.8M802.16 1027.8V1038.2M822.9 1027.8V1038.2M837.62 1027.8V1038.2M849.04 1027.8V1038.2M858.37 1027.8V1038.2M866.25 1027.8V1038.2M873.08 1027.8V1038.2M879.11 1027.8V1038.2M884.5 1022.2V1043.8" stroke="#000" stroke-width="1.65" fill="none"/>
<path d="M566.56 1129.95V1135.15M587.3 1129.95V1135.15M602.02 1129.95V1135.15M613.44 1129.95V1135.15M622.77 1129.95V1135.15M630.65 1129.95V1135.15M637.48 1129.95V1135.15M643.51 1129.95V1135.15M648.9 1124.35V1135.15M684.36 1129.95V1135.15M705.1 1129.95V1135.15M719.82 1129.95V1135.15M731.24 1129.95V1135.15M740.57 1129.95V1135.15M748.45 1129.95V1135.15M755.28 1129.95V1135.15M761.31 1129.95V1135.15M766.7 1124.35V1135.15M802.16 1129.95V1135.15M822.9 1129.95V1135.15M837.62 1129.95V1135.15M849.04 1129.95V1135.15M858.37 1129.95V1135.15M866.25 1129.95V1135.15M873.08 1129.95V1135.15M879.11 1129.95V1135.15M884.5 1124.35V1135.15" stroke="#000" stroke-width="1.65" fill="none"/>
<path d="M543.25 1033H554.05M907.9 1033H897.1M543.25 1021.83H548.45M907.9 1021.83H902.7M543.25 1010.65H548.45M907.9 1010.65H902.7M543.25 999.48H548.45M907.9 999.48H902.7M543.25 988.3H554.05M907.9 988.3H897.1M543.25 977.12H548.45M907.9 977.12H902.7M543.25 965.95H548.45M907.9 965.95H902.7M543.25 954.78H548.45M907.9 954.78H902.7M543.25 943.6H554.05M907.9 943.6H897.1M543.25 932.43H548.45M907.9 932.43H902.7M543.25 921.25H548.45M907.9 921.25H902.7M543.25 910.08H548.45M907.9 910.08H902.7M543.25 898.9H554.05M907.9 898.9H897.1" stroke="#000" stroke-width="1.65" fill="none"/>
<path d="M543.25 1135.15H554.05M907.9 1135.15H897.1M543.25 1130.04H548.45M907.9 1130.04H902.7M543.25 1124.94H548.45M907.9 1124.94H902.7M543.25 1119.83H548.45M907.9 1119.83H902.7M543.25 1114.72H548.45M907.9 1114.72H902.7M543.25 1109.61H554.05M907.9 1109.61H897.1M543.25 1104.51H548.45M907.9 1104.51H902.7M543.25 1099.4H548.45M907.9 1099.4H902.7M543.25 1094.29H548.45M907.9 1094.29H902.7M543.25 1089.18H548.45M907.9 1089.18H902.7M543.25 1084.08H554.05M907.9 1084.08H897.1M543.25 1078.97H548.45M907.9 1078.97H902.7M543.25 1073.86H548.45M907.9 1073.86H902.7M543.25 1068.75H548.45M907.9 1068.75H902.7M543.25 1063.64H548.45M907.9 1063.64H902.7M543.25 1058.54H554.05M907.9 1058.54H897.1M543.25 1053.43H548.45M907.9 1053.43H902.7M543.25 1048.32H548.45M907.9 1048.32H902.7M543.25 1043.21H548.45M907.9 1043.21H902.7M543.25 1038.11H548.45M907.9 1038.11H902.7M543.25 1033H554.05M907.9 1033H897.1" stroke="#000" stroke-width="1.65" fill="none"/>
<text transform="translate(534.15 1038.9) scale(1.14 1)" text-anchor="end" font-size="17.7" fill="#000" stroke="#000" stroke-width="0.5">0</text>
<text transform="translate(534.15 994.2) scale(1.14 1)" text-anchor="end" font-size="17.7" fill="#000" stroke="#000" stroke-width="0.5">2</text>
<text transform="translate(534.15 949.5) scale(1.14 1)" text-anchor="end" font-size="17.7" fill="#000" stroke="#000" stroke-width="0.5">4</text>
<text transform="translate(534.15 904.8) scale(1.14 1)" text-anchor="end" font-size="17.7" fill="#000" stroke="#000" stroke-width="0.5">6</text>
<text transform="translate(534.15 1115.51) scale(1.14 1)" text-anchor="end" font-size="17.7" fill="#000" stroke="#000" stroke-width="0.5" textLength="32.37" lengthAdjust="spacing">−0.5</text>
<text transform="translate(534.15 1089.98) scale(1.14 1)" text-anchor="end" font-size="17.7" fill="#000" stroke="#000" stroke-width="0.5">0</text>
<text transform="translate(534.15 1064.44) scale(1.14 1)" text-anchor="end" font-size="17.7" fill="#000" stroke="#000" stroke-width="0.5" textLength="21.58" lengthAdjust="spacing">0.5</text>
<text transform="translate(648.9 1156.15) scale(1.14 1)" text-anchor="middle" font-size="17.7" fill="#000" stroke="#000" stroke-width="0.5" textLength="17.19" lengthAdjust="spacing">10</text>
<text transform="translate(766.7 1156.15) scale(1.14 1)" text-anchor="middle" font-size="17.7" fill="#000" stroke="#000" stroke-width="0.5" textLength="26.23" lengthAdjust="spacing">100</text>
<text transform="translate(882.5 1156.15) scale(1.14 1)" text-anchor="middle" font-size="17.7" fill="#000" stroke="#000" stroke-width="0.5" textLength="17.19" lengthAdjust="spacing">10</text>
<text transform="translate(895.2 1151.15) scale(1.2 1)" text-anchor="middle" font-size="10.8" fill="#000" stroke="#000" stroke-width="0.6">3</text>
<text transform="translate(725.58 1179.25) scale(1.14 1)" text-anchor="middle" font-size="17.8" fill="#000" stroke="#000" stroke-width="0.42" textLength="121.93" lengthAdjust="spacing">Radius [arcsec]</text>
<text transform="rotate(-90 32.4 966.05) translate(32.4 966.05) scale(1 1)" text-anchor="middle" font-size="18.8" fill="#000" stroke="#000" stroke-width="0.5" textLength="49.3" lengthAdjust="spacing">log(Σ)</text>
<text transform="rotate(-90 28.3 1084.58) translate(28.3 1084.58) scale(1 1)" text-anchor="middle" font-size="18.8" fill="#000" stroke="#000" stroke-width="0.5" textLength="60.5" lengthAdjust="spacing">Δlog(Σ)</text>
<g transform="rotate(-90 503 965.95)">
<text transform="translate(456.4 965.95) scale(0.95 1)" text-anchor="start" font-size="20.5" fill="#000" stroke="#000" stroke-width="0.5" font-style="italic">σ</text>
<text transform="translate(467.8 969.55) scale(1 1)" text-anchor="start" font-size="10.3" fill="#000" stroke="#000" stroke-width="0.6" textLength="12.2" lengthAdjust="spacing">1D</text>
<text transform="translate(488.8 965.95) scale(1.04 1)" text-anchor="start" font-size="21" fill="#000" stroke="#000" stroke-width="0.5" textLength="59.23" lengthAdjust="spacing">[km/s]</text>
</g>
<g transform="rotate(-90 484.5 1084.78)">
<text transform="translate(439.2 1084.78) scale(0.85 1)" text-anchor="start" font-size="18.8" fill="#000" stroke="#000" stroke-width="0.5">Δ</text>
<text transform="translate(449.3 1084.78) scale(0.95 1)" text-anchor="start" font-size="20.5" fill="#000" stroke="#000" stroke-width="0.5" font-style="italic">σ</text>
<text transform="translate(469.5 1084.78) scale(1.04 1)" text-anchor="start" font-size="21" fill="#000" stroke="#000" stroke-width="0.5" textLength="59.23" lengthAdjust="spacing">[km/s]</text>
</g>
<text transform="translate(358 930.2) scale(0.88 1)" text-anchor="start" font-size="15.6" fill="#00cd00" stroke="#00cd00" stroke-width="0.75" textLength="33.52" lengthAdjust="spacing">NGC</text>
<text transform="translate(395.6 930.2) scale(1 1)" text-anchor="start" font-size="15.6" fill="#00cd00" stroke="#00cd00" stroke-width="0.75" textLength="33" lengthAdjust="spacing">3201</text>
</svg>
</body></html>
